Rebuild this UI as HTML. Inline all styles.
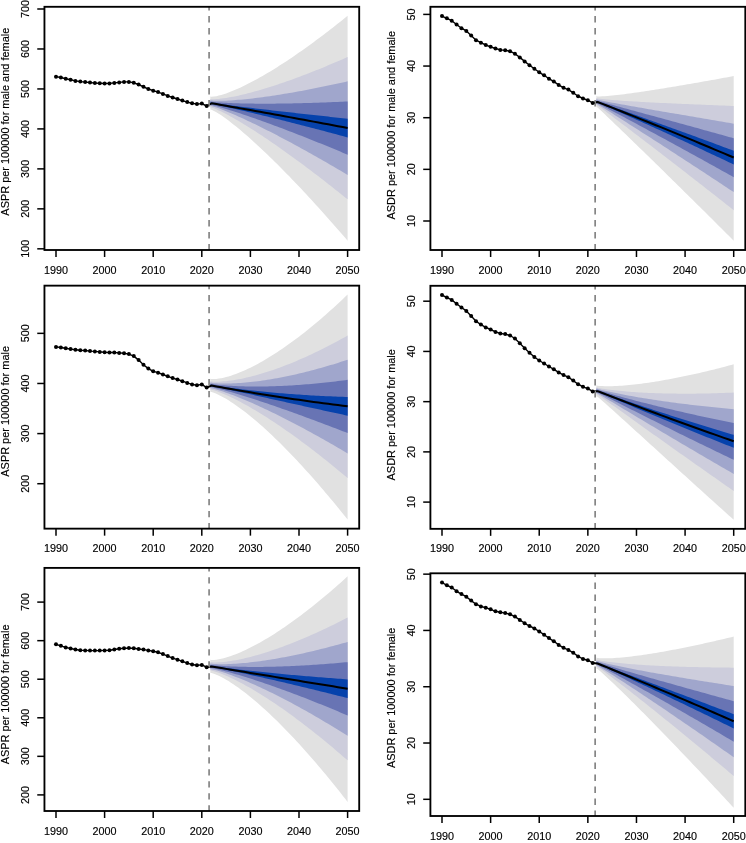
<!DOCTYPE html>
<html><head><meta charset="utf-8"><title>BAPC projections</title>
<style>
html,body{margin:0;padding:0;background:#fff;}
body{width:746px;height:843px;overflow:hidden;}
svg{display:block;filter:blur(0.3px);}
text{font-family:"Liberation Sans", Arial, Helvetica, sans-serif;fill:#000;stroke:#000;stroke-width:0.15px;}
</style></head>
<body>
<svg width="746" height="843" viewBox="0 0 746 843">
<rect width="746" height="843" fill="#fff"/>
<clipPath id="c0"><rect x="44.45" y="6.8" width="314.75" height="243.2"/></clipPath>
<g clip-path="url(#c0)">
<path d="M210.31,96.55 L211.52,96.76 L213.95,96.6 L216.38,96.17 L218.81,95.6 L221.24,94.94 L223.67,94.19 L226.1,93.38 L228.53,92.5 L230.96,91.57 L233.39,90.58 L235.82,89.56 L238.25,88.49 L240.68,87.38 L243.11,86.23 L245.54,85.05 L247.97,83.84 L250.4,82.59 L252.83,81.32 L255.26,80.01 L257.69,78.68 L260.12,77.32 L262.55,75.94 L264.98,74.53 L267.41,73.1 L269.84,71.65 L272.27,70.17 L274.7,68.67 L277.13,67.15 L279.56,65.61 L281.99,64.05 L284.42,62.47 L286.85,60.88 L289.28,59.26 L291.71,57.63 L294.14,55.97 L296.57,54.31 L299,52.62 L301.43,50.92 L303.86,49.2 L306.29,47.46 L308.72,45.71 L311.15,43.95 L313.58,42.17 L316.01,40.37 L318.44,38.56 L320.87,36.74 L323.3,34.9 L325.73,33.05 L328.16,31.18 L330.59,29.31 L333.02,27.41 L335.45,25.51 L337.88,23.59 L340.31,21.66 L342.74,19.72 L345.17,17.77 L347.6,15.8 L347.6,240.7 L345.17,237.87 L342.74,235.06 L340.31,232.25 L337.88,229.46 L335.45,226.68 L333.02,223.91 L330.59,221.15 L328.16,218.41 L325.73,215.68 L323.3,212.96 L320.87,210.26 L318.44,207.56 L316.01,204.88 L313.58,202.22 L311.15,199.57 L308.72,196.93 L306.29,194.31 L303.86,191.7 L301.43,189.11 L299,186.53 L296.57,183.97 L294.14,181.42 L291.71,178.89 L289.28,176.37 L286.85,173.88 L284.42,171.4 L281.99,168.94 L279.56,166.49 L277.13,164.07 L274.7,161.66 L272.27,159.27 L269.84,156.9 L267.41,154.56 L264.98,152.23 L262.55,149.93 L260.12,147.65 L257.69,145.39 L255.26,143.16 L252.83,140.96 L250.4,138.78 L247.97,136.62 L245.54,134.5 L243.11,132.41 L240.68,130.35 L238.25,128.32 L235.82,126.34 L233.39,124.39 L230.96,122.48 L228.53,120.62 L226.1,118.81 L223.67,117.06 L221.24,115.37 L218.81,113.76 L216.38,112.25 L213.95,110.88 L211.52,109.76 L210.31,109.55Z" fill="#e1e1e1"/>
<path d="M210.31,98.94 L211.52,99.15 L213.95,99.2 L216.38,99.08 L218.81,98.88 L221.24,98.61 L223.67,98.3 L226.1,97.94 L228.53,97.54 L230.96,97.1 L233.39,96.64 L235.82,96.15 L238.25,95.63 L240.68,95.08 L243.11,94.51 L245.54,93.93 L247.97,93.32 L250.4,92.69 L252.83,92.04 L255.26,91.37 L257.69,90.69 L260.12,89.99 L262.55,89.28 L264.98,88.54 L267.41,87.8 L269.84,87.04 L272.27,86.27 L274.7,85.48 L277.13,84.68 L279.56,83.87 L281.99,83.04 L284.42,82.21 L286.85,81.36 L289.28,80.5 L291.71,79.63 L294.14,78.74 L296.57,77.85 L299,76.95 L301.43,76.04 L303.86,75.11 L306.29,74.18 L308.72,73.24 L311.15,72.29 L313.58,71.32 L316.01,70.35 L318.44,69.38 L320.87,68.39 L323.3,67.39 L325.73,66.39 L328.16,65.37 L330.59,64.35 L333.02,63.32 L335.45,62.29 L337.88,61.24 L340.31,60.19 L342.74,59.13 L345.17,58.06 L347.6,56.99 L347.6,199.35 L345.17,197.39 L342.74,195.44 L340.31,193.49 L337.88,191.56 L335.45,189.63 L333.02,187.71 L330.59,185.79 L328.16,183.89 L325.73,181.99 L323.3,180.1 L320.87,178.22 L318.44,176.35 L316.01,174.49 L313.58,172.64 L311.15,170.79 L308.72,168.96 L306.29,167.13 L303.86,165.32 L301.43,163.51 L299,161.71 L296.57,159.93 L294.14,158.15 L291.71,156.39 L289.28,154.63 L286.85,152.89 L284.42,151.15 L281.99,149.43 L279.56,147.72 L277.13,146.02 L274.7,144.34 L272.27,142.67 L269.84,141.01 L267.41,139.36 L264.98,137.73 L262.55,136.11 L260.12,134.51 L257.69,132.92 L255.26,131.35 L252.83,129.79 L250.4,128.25 L247.97,126.73 L245.54,125.23 L243.11,123.75 L240.68,122.28 L238.25,120.84 L235.82,119.43 L233.39,118.04 L230.96,116.67 L228.53,115.34 L226.1,114.04 L223.67,112.77 L221.24,111.55 L218.81,110.38 L216.38,109.26 L213.95,108.24 L211.52,107.38 L210.31,107.17Z" fill="#cdcddc"/>
<path d="M210.31,100.35 L211.52,100.56 L213.95,100.73 L216.38,100.8 L218.81,100.82 L221.24,100.79 L223.67,100.72 L226.1,100.63 L228.53,100.52 L230.96,100.38 L233.39,100.22 L235.82,100.04 L238.25,99.85 L240.68,99.64 L243.11,99.41 L245.54,99.17 L247.97,98.92 L250.4,98.66 L252.83,98.38 L255.26,98.09 L257.69,97.79 L260.12,97.48 L262.55,97.16 L264.98,96.83 L267.41,96.49 L269.84,96.14 L272.27,95.78 L274.7,95.42 L277.13,95.04 L279.56,94.66 L281.99,94.27 L284.42,93.87 L286.85,93.47 L289.28,93.05 L291.71,92.63 L294.14,92.21 L296.57,91.77 L299,91.33 L301.43,90.89 L303.86,90.44 L306.29,89.98 L308.72,89.51 L311.15,89.04 L313.58,88.57 L316.01,88.08 L318.44,87.6 L320.87,87.1 L323.3,86.6 L325.73,86.1 L328.16,85.59 L330.59,85.08 L333.02,84.56 L335.45,84.03 L337.88,83.5 L340.31,82.97 L342.74,82.43 L345.17,81.89 L347.6,81.34 L347.6,174.9 L345.17,173.45 L342.74,172.01 L340.31,170.58 L337.88,169.14 L335.45,167.72 L333.02,166.3 L330.59,164.89 L328.16,163.48 L325.73,162.07 L323.3,160.68 L320.87,159.29 L318.44,157.9 L316.01,156.52 L313.58,155.15 L311.15,153.78 L308.72,152.42 L306.29,151.06 L303.86,149.72 L301.43,148.38 L299,147.04 L296.57,145.71 L294.14,144.39 L291.71,143.08 L289.28,141.77 L286.85,140.47 L284.42,139.18 L281.99,137.9 L279.56,136.63 L277.13,135.36 L274.7,134.1 L272.27,132.85 L269.84,131.61 L267.41,130.38 L264.98,129.15 L262.55,127.94 L260.12,126.74 L257.69,125.54 L255.26,124.36 L252.83,123.19 L250.4,122.03 L247.97,120.88 L245.54,119.74 L243.11,118.62 L240.68,117.51 L238.25,116.42 L235.82,115.34 L233.39,114.28 L230.96,113.24 L228.53,112.22 L226.1,111.21 L223.67,110.24 L221.24,109.29 L218.81,108.37 L216.38,107.5 L213.95,106.68 L211.52,105.97 L210.31,105.75Z" fill="#a0a6cc"/>
<path d="M210.31,101.51 L211.52,101.72 L213.95,102.01 L216.38,102.23 L218.81,102.42 L221.24,102.58 L223.67,102.73 L226.1,102.86 L228.53,102.98 L230.96,103.09 L233.39,103.18 L235.82,103.27 L238.25,103.34 L240.68,103.41 L243.11,103.46 L245.54,103.51 L247.97,103.56 L250.4,103.59 L252.83,103.62 L255.26,103.65 L257.69,103.66 L260.12,103.67 L262.55,103.68 L264.98,103.68 L267.41,103.68 L269.84,103.67 L272.27,103.66 L274.7,103.64 L277.13,103.61 L279.56,103.59 L281.99,103.56 L284.42,103.52 L286.85,103.48 L289.28,103.44 L291.71,103.39 L294.14,103.34 L296.57,103.29 L299,103.23 L301.43,103.17 L303.86,103.11 L306.29,103.04 L308.72,102.97 L311.15,102.9 L313.58,102.83 L316.01,102.75 L318.44,102.67 L320.87,102.58 L323.3,102.5 L325.73,102.41 L328.16,102.31 L330.59,102.22 L333.02,102.12 L335.45,102.02 L337.88,101.92 L340.31,101.81 L342.74,101.71 L345.17,101.6 L347.6,101.49 L347.6,154.67 L345.17,153.65 L342.74,152.63 L340.31,151.62 L337.88,150.61 L335.45,149.6 L333.02,148.59 L330.59,147.59 L328.16,146.59 L325.73,145.6 L323.3,144.61 L320.87,143.62 L318.44,142.64 L316.01,141.65 L313.58,140.68 L311.15,139.71 L308.72,138.74 L306.29,137.77 L303.86,136.81 L301.43,135.86 L299,134.9 L296.57,133.96 L294.14,133.01 L291.71,132.07 L289.28,131.14 L286.85,130.21 L284.42,129.28 L281.99,128.36 L279.56,127.45 L277.13,126.53 L274.7,125.63 L272.27,124.73 L269.84,123.83 L267.41,122.94 L264.98,122.06 L262.55,121.18 L260.12,120.31 L257.69,119.44 L255.26,118.58 L252.83,117.73 L250.4,116.88 L247.97,116.04 L245.54,115.21 L243.11,114.38 L240.68,113.57 L238.25,112.76 L235.82,111.96 L233.39,111.18 L230.96,110.4 L228.53,109.63 L226.1,108.88 L223.67,108.14 L221.24,107.42 L218.81,106.71 L216.38,106.03 L213.95,105.38 L211.52,104.8 L210.31,104.59Z" fill="#6874b4"/>
<path d="M210.31,102.51 L211.52,102.72 L213.95,103.09 L216.38,103.45 L218.81,103.79 L221.24,104.12 L223.67,104.45 L226.1,104.77 L228.53,105.09 L230.96,105.4 L233.39,105.71 L235.82,106.02 L238.25,106.33 L240.68,106.63 L243.11,106.93 L245.54,107.23 L247.97,107.52 L250.4,107.81 L252.83,108.11 L255.26,108.4 L257.69,108.69 L260.12,108.97 L262.55,109.26 L264.98,109.54 L267.41,109.83 L269.84,110.11 L272.27,110.39 L274.7,110.67 L277.13,110.95 L279.56,111.22 L281.99,111.5 L284.42,111.77 L286.85,112.05 L289.28,112.32 L291.71,112.6 L294.14,112.87 L296.57,113.14 L299,113.41 L301.43,113.68 L303.86,113.95 L306.29,114.22 L308.72,114.49 L311.15,114.75 L313.58,115.02 L316.01,115.29 L318.44,115.55 L320.87,115.82 L323.3,116.08 L325.73,116.35 L328.16,116.61 L330.59,116.88 L333.02,117.14 L335.45,117.4 L337.88,117.67 L340.31,117.93 L342.74,118.19 L345.17,118.45 L347.6,118.71 L347.6,137.38 L345.17,136.72 L342.74,136.06 L340.31,135.41 L337.88,134.75 L335.45,134.1 L333.02,133.45 L330.59,132.8 L328.16,132.15 L325.73,131.51 L323.3,130.86 L320.87,130.22 L318.44,129.58 L316.01,128.94 L313.58,128.31 L311.15,127.67 L308.72,127.04 L306.29,126.41 L303.86,125.78 L301.43,125.15 L299,124.53 L296.57,123.9 L294.14,123.28 L291.71,122.66 L289.28,122.04 L286.85,121.43 L284.42,120.82 L281.99,120.2 L279.56,119.6 L277.13,118.99 L274.7,118.38 L272.27,117.78 L269.84,117.18 L267.41,116.59 L264.98,115.99 L262.55,115.4 L260.12,114.81 L257.69,114.22 L255.26,113.64 L252.83,113.06 L250.4,112.48 L247.97,111.9 L245.54,111.33 L243.11,110.76 L240.68,110.19 L238.25,109.63 L235.82,109.07 L233.39,108.52 L230.96,107.97 L228.53,107.42 L226.1,106.88 L223.67,106.35 L221.24,105.82 L218.81,105.3 L216.38,104.78 L213.95,104.28 L211.52,103.8 L210.31,103.59Z" fill="#0642ac"/>
<polyline points="206.66,106 211.52,103.26 216.38,104.11 221.24,104.95 226.1,105.8 230.96,106.66 235.82,107.51 240.68,108.37 245.54,109.23 250.4,110.1 255.26,110.97 260.12,111.84 264.98,112.71 269.84,113.59 274.7,114.47 279.56,115.35 284.42,116.24 289.28,117.13 294.14,118.02 299,118.91 303.86,119.81 308.72,120.71 313.58,121.62 318.44,122.52 323.3,123.43 328.16,124.35 333.02,125.26 337.88,126.18 342.74,127.1 347.6,128.03" fill="none" stroke="#000" stroke-width="2" stroke-linejoin="round"/>
<line x1="209.09" y1="6.8" x2="209.09" y2="250" stroke="#858585" stroke-width="1.7" stroke-dasharray="6.4 5.6" stroke-dashoffset="2.7"/>
<polyline points="56,76.65 60.86,77.5 65.72,78.7 70.58,79.7 75.44,80.9 80.3,81.6 85.16,82.1 90.02,82.5 94.88,83.1 99.74,83.3 104.6,83.5 109.46,83.4 114.32,82.9 119.18,82.4 124.04,81.9 128.9,81.9 133.76,82.8 138.62,84.5 143.48,86.8 148.34,89 153.2,90.7 158.06,92.1 162.92,93.9 167.78,95.9 172.64,97.5 177.5,99 182.36,100.6 187.22,102.1 192.08,103.3 196.94,104.1 201.8,103.6 206.66,106" fill="none" stroke="#000" stroke-width="1.4" stroke-linejoin="round"/>
<circle cx="56" cy="76.65" r="2"/>
<circle cx="60.86" cy="77.5" r="2"/>
<circle cx="65.72" cy="78.7" r="2"/>
<circle cx="70.58" cy="79.7" r="2"/>
<circle cx="75.44" cy="80.9" r="2"/>
<circle cx="80.3" cy="81.6" r="2"/>
<circle cx="85.16" cy="82.1" r="2"/>
<circle cx="90.02" cy="82.5" r="2"/>
<circle cx="94.88" cy="83.1" r="2"/>
<circle cx="99.74" cy="83.3" r="2"/>
<circle cx="104.6" cy="83.5" r="2"/>
<circle cx="109.46" cy="83.4" r="2"/>
<circle cx="114.32" cy="82.9" r="2"/>
<circle cx="119.18" cy="82.4" r="2"/>
<circle cx="124.04" cy="81.9" r="2"/>
<circle cx="128.9" cy="81.9" r="2"/>
<circle cx="133.76" cy="82.8" r="2"/>
<circle cx="138.62" cy="84.5" r="2"/>
<circle cx="143.48" cy="86.8" r="2"/>
<circle cx="148.34" cy="89" r="2"/>
<circle cx="153.2" cy="90.7" r="2"/>
<circle cx="158.06" cy="92.1" r="2"/>
<circle cx="162.92" cy="93.9" r="2"/>
<circle cx="167.78" cy="95.9" r="2"/>
<circle cx="172.64" cy="97.5" r="2"/>
<circle cx="177.5" cy="99" r="2"/>
<circle cx="182.36" cy="100.6" r="2"/>
<circle cx="187.22" cy="102.1" r="2"/>
<circle cx="192.08" cy="103.3" r="2"/>
<circle cx="196.94" cy="104.1" r="2"/>
<circle cx="201.8" cy="103.6" r="2"/>
<circle cx="206.66" cy="106" r="2"/>
</g>
<rect x="44.45" y="6.8" width="314.75" height="243.2" fill="none" stroke="#000" stroke-width="1.85"/>
<line x1="56" y1="250" x2="56" y2="257" stroke="#000" stroke-width="1.5"/>
<text x="56" y="273.5" text-anchor="middle" font-size="10.8">1990</text>
<line x1="104.6" y1="250" x2="104.6" y2="257" stroke="#000" stroke-width="1.5"/>
<text x="104.6" y="273.5" text-anchor="middle" font-size="10.8">2000</text>
<line x1="153.2" y1="250" x2="153.2" y2="257" stroke="#000" stroke-width="1.5"/>
<text x="153.2" y="273.5" text-anchor="middle" font-size="10.8">2010</text>
<line x1="201.8" y1="250" x2="201.8" y2="257" stroke="#000" stroke-width="1.5"/>
<text x="201.8" y="273.5" text-anchor="middle" font-size="10.8">2020</text>
<line x1="250.4" y1="250" x2="250.4" y2="257" stroke="#000" stroke-width="1.5"/>
<text x="250.4" y="273.5" text-anchor="middle" font-size="10.8">2030</text>
<line x1="299" y1="250" x2="299" y2="257" stroke="#000" stroke-width="1.5"/>
<text x="299" y="273.5" text-anchor="middle" font-size="10.8">2040</text>
<line x1="347.6" y1="250" x2="347.6" y2="257" stroke="#000" stroke-width="1.5"/>
<text x="347.6" y="273.5" text-anchor="middle" font-size="10.8">2050</text>
<line x1="37.25" y1="248.82" x2="44.45" y2="248.82" stroke="#000" stroke-width="1.5"/>
<text transform="translate(29.25,248.82) rotate(-90)" text-anchor="middle" font-size="10.8">100</text>
<line x1="37.25" y1="208.85" x2="44.45" y2="208.85" stroke="#000" stroke-width="1.5"/>
<text transform="translate(29.25,208.85) rotate(-90)" text-anchor="middle" font-size="10.8">200</text>
<line x1="37.25" y1="168.88" x2="44.45" y2="168.88" stroke="#000" stroke-width="1.5"/>
<text transform="translate(29.25,168.88) rotate(-90)" text-anchor="middle" font-size="10.8">300</text>
<line x1="37.25" y1="128.91" x2="44.45" y2="128.91" stroke="#000" stroke-width="1.5"/>
<text transform="translate(29.25,128.91) rotate(-90)" text-anchor="middle" font-size="10.8">400</text>
<line x1="37.25" y1="88.94" x2="44.45" y2="88.94" stroke="#000" stroke-width="1.5"/>
<text transform="translate(29.25,88.94) rotate(-90)" text-anchor="middle" font-size="10.8">500</text>
<line x1="37.25" y1="48.97" x2="44.45" y2="48.97" stroke="#000" stroke-width="1.5"/>
<text transform="translate(29.25,48.97) rotate(-90)" text-anchor="middle" font-size="10.8">600</text>
<line x1="37.25" y1="9" x2="44.45" y2="9" stroke="#000" stroke-width="1.5"/>
<text transform="translate(29.25,9) rotate(-90)" text-anchor="middle" font-size="10.8">700</text>
<text transform="translate(9.25,121.7) rotate(-90)" text-anchor="middle" font-size="10.95">ASPR per 100000 for male and female</text>
<clipPath id="c1"><rect x="44.45" y="285.65" width="314.75" height="243"/></clipPath>
<g clip-path="url(#c1)">
<path d="M210.31,378.81 L211.52,379.04 L213.95,379.11 L216.38,378.94 L218.81,378.62 L221.24,378.19 L223.67,377.67 L226.1,377.06 L228.53,376.38 L230.96,375.63 L233.39,374.82 L235.82,373.95 L238.25,373.02 L240.68,372.04 L243.11,371.01 L245.54,369.93 L247.97,368.81 L250.4,367.64 L252.83,366.43 L255.26,365.17 L257.69,363.88 L260.12,362.55 L262.55,361.18 L264.98,359.77 L267.41,358.33 L269.84,356.85 L272.27,355.34 L274.7,353.8 L277.13,352.22 L279.56,350.61 L281.99,348.97 L284.42,347.3 L286.85,345.6 L289.28,343.87 L291.71,342.11 L294.14,340.33 L296.57,338.51 L299,336.67 L301.43,334.79 L303.86,332.9 L306.29,330.97 L308.72,329.02 L311.15,327.04 L313.58,325.04 L316.01,323.01 L318.44,320.96 L320.87,318.89 L323.3,316.78 L325.73,314.66 L328.16,312.51 L330.59,310.34 L333.02,308.14 L335.45,305.93 L337.88,303.69 L340.31,301.42 L342.74,299.14 L345.17,296.83 L347.6,294.5 L347.6,519.6 L345.17,516.55 L342.74,513.52 L340.31,510.52 L337.88,507.53 L335.45,504.56 L333.02,501.61 L330.59,498.68 L328.16,495.78 L325.73,492.89 L323.3,490.03 L320.87,487.19 L318.44,484.37 L316.01,481.58 L313.58,478.81 L311.15,476.06 L308.72,473.33 L306.29,470.63 L303.86,467.95 L301.43,465.3 L299,462.67 L296.57,460.07 L294.14,457.49 L291.71,454.94 L289.28,452.42 L286.85,449.92 L284.42,447.45 L281.99,445.02 L279.56,442.61 L277.13,440.23 L274.7,437.88 L272.27,435.56 L269.84,433.27 L267.41,431.02 L264.98,428.8 L262.55,426.61 L260.12,424.46 L257.69,422.34 L255.26,420.27 L252.83,418.23 L250.4,416.23 L247.97,414.27 L245.54,412.36 L243.11,410.49 L240.68,408.67 L238.25,406.89 L235.82,405.17 L233.39,403.5 L230.96,401.9 L228.53,400.35 L226.1,398.87 L223.67,397.46 L221.24,396.14 L218.81,394.91 L216.38,393.78 L213.95,392.8 L211.52,392.04 L210.31,391.81Z" fill="#e1e1e1"/>
<path d="M210.31,381.2 L211.52,381.42 L213.95,381.63 L216.38,381.69 L218.81,381.65 L221.24,381.54 L223.67,381.37 L226.1,381.14 L228.53,380.87 L230.96,380.55 L233.39,380.19 L235.82,379.8 L238.25,379.36 L240.68,378.89 L243.11,378.39 L245.54,377.86 L247.97,377.3 L250.4,376.71 L252.83,376.09 L255.26,375.44 L257.69,374.77 L260.12,374.07 L262.55,373.35 L264.98,372.6 L267.41,371.83 L269.84,371.03 L272.27,370.22 L274.7,369.38 L277.13,368.52 L279.56,367.64 L281.99,366.73 L284.42,365.81 L286.85,364.87 L289.28,363.9 L291.71,362.92 L294.14,361.92 L296.57,360.9 L299,359.86 L301.43,358.8 L303.86,357.73 L306.29,356.63 L308.72,355.52 L311.15,354.39 L313.58,353.25 L316.01,352.08 L318.44,350.91 L320.87,349.71 L323.3,348.5 L325.73,347.27 L328.16,346.02 L330.59,344.76 L333.02,343.49 L335.45,342.2 L337.88,340.89 L340.31,339.57 L342.74,338.23 L345.17,336.88 L347.6,335.51 L347.6,478 L345.17,475.96 L342.74,473.94 L340.31,471.92 L337.88,469.92 L335.45,467.93 L333.02,465.95 L330.59,463.99 L328.16,462.03 L325.73,460.09 L323.3,458.16 L320.87,456.25 L318.44,454.34 L316.01,452.46 L313.58,450.58 L311.15,448.72 L308.72,446.87 L306.29,445.03 L303.86,443.21 L301.43,441.41 L299,439.62 L296.57,437.84 L294.14,436.08 L291.71,434.34 L289.28,432.61 L286.85,430.9 L284.42,429.21 L281.99,427.53 L279.56,425.87 L277.13,424.22 L274.7,422.6 L272.27,420.99 L269.84,419.41 L267.41,417.84 L264.98,416.29 L262.55,414.77 L260.12,413.26 L257.69,411.78 L255.26,410.32 L252.83,408.88 L250.4,407.47 L247.97,406.08 L245.54,404.72 L243.11,403.38 L240.68,402.08 L238.25,400.8 L235.82,399.56 L233.39,398.35 L230.96,397.18 L228.53,396.04 L226.1,394.95 L223.67,393.9 L221.24,392.9 L218.81,391.96 L216.38,391.08 L213.95,390.3 L211.52,389.65 L210.31,389.43Z" fill="#cdcddc"/>
<path d="M210.31,382.61 L211.52,382.83 L213.95,383.13 L216.38,383.31 L218.81,383.44 L221.24,383.52 L223.67,383.55 L226.1,383.56 L228.53,383.52 L230.96,383.46 L233.39,383.37 L235.82,383.25 L238.25,383.11 L240.68,382.95 L243.11,382.76 L245.54,382.55 L247.97,382.32 L250.4,382.07 L252.83,381.8 L255.26,381.51 L257.69,381.21 L260.12,380.88 L262.55,380.54 L264.98,380.18 L267.41,379.81 L269.84,379.42 L272.27,379.01 L274.7,378.59 L277.13,378.15 L279.56,377.7 L281.99,377.23 L284.42,376.75 L286.85,376.26 L289.28,375.75 L291.71,375.22 L294.14,374.69 L296.57,374.14 L299,373.57 L301.43,373 L303.86,372.41 L306.29,371.8 L308.72,371.19 L311.15,370.56 L313.58,369.92 L316.01,369.27 L318.44,368.61 L320.87,367.93 L323.3,367.25 L325.73,366.55 L328.16,365.84 L330.59,365.12 L333.02,364.39 L335.45,363.64 L337.88,362.89 L340.31,362.12 L342.74,361.34 L345.17,360.56 L347.6,359.76 L347.6,453.4 L345.17,451.96 L342.74,450.53 L340.31,449.1 L337.88,447.68 L335.45,446.27 L333.02,444.87 L330.59,443.47 L328.16,442.08 L325.73,440.7 L323.3,439.32 L320.87,437.95 L318.44,436.59 L316.01,435.24 L313.58,433.89 L311.15,432.55 L308.72,431.22 L306.29,429.9 L303.86,428.59 L301.43,427.29 L299,425.99 L296.57,424.7 L294.14,423.43 L291.71,422.16 L289.28,420.9 L286.85,419.65 L284.42,418.41 L281.99,417.19 L279.56,415.97 L277.13,414.76 L274.7,413.57 L272.27,412.38 L269.84,411.21 L267.41,410.05 L264.98,408.9 L262.55,407.76 L260.12,406.64 L257.69,405.53 L255.26,404.43 L252.83,403.35 L250.4,402.29 L247.97,401.24 L245.54,400.2 L243.11,399.18 L240.68,398.18 L238.25,397.2 L235.82,396.24 L233.39,395.3 L230.96,394.39 L228.53,393.49 L226.1,392.63 L223.67,391.79 L221.24,390.98 L218.81,390.21 L216.38,389.49 L213.95,388.82 L211.52,388.24 L210.31,388.02Z" fill="#a0a6cc"/>
<path d="M210.31,383.78 L211.52,384 L213.95,384.36 L216.38,384.66 L218.81,384.92 L221.24,385.15 L223.67,385.36 L226.1,385.55 L228.53,385.72 L230.96,385.87 L233.39,386 L235.82,386.11 L238.25,386.22 L240.68,386.3 L243.11,386.37 L245.54,386.43 L247.97,386.48 L250.4,386.51 L252.83,386.53 L255.26,386.54 L257.69,386.53 L260.12,386.52 L262.55,386.5 L264.98,386.46 L267.41,386.41 L269.84,386.35 L272.27,386.29 L274.7,386.21 L277.13,386.12 L279.56,386.03 L281.99,385.92 L284.42,385.8 L286.85,385.68 L289.28,385.54 L291.71,385.4 L294.14,385.25 L296.57,385.09 L299,384.92 L301.43,384.74 L303.86,384.55 L306.29,384.36 L308.72,384.15 L311.15,383.94 L313.58,383.72 L316.01,383.49 L318.44,383.25 L320.87,383.01 L323.3,382.76 L325.73,382.5 L328.16,382.23 L330.59,381.96 L333.02,381.67 L335.45,381.38 L337.88,381.08 L340.31,380.78 L342.74,380.46 L345.17,380.14 L347.6,379.82 L347.6,433.05 L345.17,432.11 L342.74,431.17 L340.31,430.23 L337.88,429.29 L335.45,428.36 L333.02,427.43 L330.59,426.5 L328.16,425.57 L325.73,424.65 L323.3,423.73 L320.87,422.81 L318.44,421.9 L316.01,420.99 L313.58,420.08 L311.15,419.18 L308.72,418.28 L306.29,417.38 L303.86,416.49 L301.43,415.6 L299,414.72 L296.57,413.83 L294.14,412.96 L291.71,412.08 L289.28,411.21 L286.85,410.35 L284.42,409.49 L281.99,408.63 L279.56,407.78 L277.13,406.94 L274.7,406.09 L272.27,405.26 L269.84,404.43 L267.41,403.6 L264.98,402.78 L262.55,401.97 L260.12,401.16 L257.69,400.36 L255.26,399.57 L252.83,398.78 L250.4,398 L247.97,397.23 L245.54,396.47 L243.11,395.71 L240.68,394.96 L238.25,394.23 L235.82,393.5 L233.39,392.78 L230.96,392.08 L228.53,391.39 L226.1,390.71 L223.67,390.04 L221.24,389.4 L218.81,388.77 L216.38,388.17 L213.95,387.6 L211.52,387.08 L210.31,386.85Z" fill="#6874b4"/>
<path d="M210.31,384.77 L211.52,385 L213.95,385.41 L216.38,385.81 L218.81,386.19 L221.24,386.55 L223.67,386.91 L226.1,387.26 L228.53,387.59 L230.96,387.92 L233.39,388.25 L235.82,388.56 L238.25,388.87 L240.68,389.17 L243.11,389.46 L245.54,389.75 L247.97,390.03 L250.4,390.3 L252.83,390.57 L255.26,390.83 L257.69,391.09 L260.12,391.34 L262.55,391.59 L264.98,391.82 L267.41,392.06 L269.84,392.29 L272.27,392.51 L274.7,392.73 L277.13,392.94 L279.56,393.14 L281.99,393.35 L284.42,393.54 L286.85,393.73 L289.28,393.92 L291.71,394.1 L294.14,394.28 L296.57,394.45 L299,394.62 L301.43,394.78 L303.86,394.94 L306.29,395.09 L308.72,395.24 L311.15,395.38 L313.58,395.52 L316.01,395.65 L318.44,395.78 L320.87,395.9 L323.3,396.02 L325.73,396.14 L328.16,396.25 L330.59,396.35 L333.02,396.45 L335.45,396.55 L337.88,396.64 L340.31,396.73 L342.74,396.82 L345.17,396.89 L347.6,396.97 L347.6,415.65 L345.17,415.13 L342.74,414.61 L340.31,414.09 L337.88,413.56 L335.45,413.04 L333.02,412.51 L330.59,411.99 L328.16,411.46 L325.73,410.93 L323.3,410.4 L320.87,409.87 L318.44,409.34 L316.01,408.81 L313.58,408.28 L311.15,407.75 L308.72,407.21 L306.29,406.68 L303.86,406.15 L301.43,405.61 L299,405.08 L296.57,404.54 L294.14,404 L291.71,403.47 L289.28,402.93 L286.85,402.39 L284.42,401.86 L281.99,401.32 L279.56,400.78 L277.13,400.24 L274.7,399.7 L272.27,399.17 L269.84,398.63 L267.41,398.09 L264.98,397.55 L262.55,397.02 L260.12,396.48 L257.69,395.94 L255.26,395.41 L252.83,394.87 L250.4,394.34 L247.97,393.8 L245.54,393.27 L243.11,392.74 L240.68,392.21 L238.25,391.68 L235.82,391.15 L233.39,390.63 L230.96,390.1 L228.53,389.58 L226.1,389.07 L223.67,388.55 L221.24,388.04 L218.81,387.54 L216.38,387.04 L213.95,386.55 L211.52,386.08 L210.31,385.85Z" fill="#0642ac"/>
<polyline points="206.66,387.6 211.52,385.54 216.38,386.43 221.24,387.31 226.1,388.18 230.96,389.04 235.82,389.88 240.68,390.72 245.54,391.54 250.4,392.35 255.26,393.16 260.12,393.95 264.98,394.73 269.84,395.49 274.7,396.25 279.56,396.99 284.42,397.73 289.28,398.45 294.14,399.16 299,399.86 303.86,400.55 308.72,401.23 313.58,401.9 318.44,402.55 323.3,403.19 328.16,403.83 333.02,404.45 337.88,405.06 342.74,405.66 347.6,406.24" fill="none" stroke="#000" stroke-width="2" stroke-linejoin="round"/>
<line x1="209.09" y1="285.65" x2="209.09" y2="528.65" stroke="#858585" stroke-width="1.7" stroke-dasharray="6.4 5.6" stroke-dashoffset="2.7"/>
<polyline points="56,346.9 60.86,347.5 65.72,348.3 70.58,349.1 75.44,349.7 80.3,350.3 85.16,350.5 90.02,351.1 94.88,351.4 99.74,351.9 104.6,352.3 109.46,352.5 114.32,352.5 119.18,352.9 124.04,353.3 128.9,354.1 133.76,356.1 138.62,360.1 143.48,364.8 148.34,368.6 153.2,371.3 158.06,372.7 162.92,374.5 167.78,376.3 172.64,378.1 177.5,379.5 182.36,381.2 187.22,382.9 192.08,384.4 196.94,385.3 201.8,384.4 206.66,387.6" fill="none" stroke="#000" stroke-width="1.4" stroke-linejoin="round"/>
<circle cx="56" cy="346.9" r="2"/>
<circle cx="60.86" cy="347.5" r="2"/>
<circle cx="65.72" cy="348.3" r="2"/>
<circle cx="70.58" cy="349.1" r="2"/>
<circle cx="75.44" cy="349.7" r="2"/>
<circle cx="80.3" cy="350.3" r="2"/>
<circle cx="85.16" cy="350.5" r="2"/>
<circle cx="90.02" cy="351.1" r="2"/>
<circle cx="94.88" cy="351.4" r="2"/>
<circle cx="99.74" cy="351.9" r="2"/>
<circle cx="104.6" cy="352.3" r="2"/>
<circle cx="109.46" cy="352.5" r="2"/>
<circle cx="114.32" cy="352.5" r="2"/>
<circle cx="119.18" cy="352.9" r="2"/>
<circle cx="124.04" cy="353.3" r="2"/>
<circle cx="128.9" cy="354.1" r="2"/>
<circle cx="133.76" cy="356.1" r="2"/>
<circle cx="138.62" cy="360.1" r="2"/>
<circle cx="143.48" cy="364.8" r="2"/>
<circle cx="148.34" cy="368.6" r="2"/>
<circle cx="153.2" cy="371.3" r="2"/>
<circle cx="158.06" cy="372.7" r="2"/>
<circle cx="162.92" cy="374.5" r="2"/>
<circle cx="167.78" cy="376.3" r="2"/>
<circle cx="172.64" cy="378.1" r="2"/>
<circle cx="177.5" cy="379.5" r="2"/>
<circle cx="182.36" cy="381.2" r="2"/>
<circle cx="187.22" cy="382.9" r="2"/>
<circle cx="192.08" cy="384.4" r="2"/>
<circle cx="196.94" cy="385.3" r="2"/>
<circle cx="201.8" cy="384.4" r="2"/>
<circle cx="206.66" cy="387.6" r="2"/>
</g>
<rect x="44.45" y="285.65" width="314.75" height="243" fill="none" stroke="#000" stroke-width="1.85"/>
<line x1="56" y1="528.65" x2="56" y2="535.65" stroke="#000" stroke-width="1.5"/>
<text x="56" y="551.95" text-anchor="middle" font-size="10.8">1990</text>
<line x1="104.6" y1="528.65" x2="104.6" y2="535.65" stroke="#000" stroke-width="1.5"/>
<text x="104.6" y="551.95" text-anchor="middle" font-size="10.8">2000</text>
<line x1="153.2" y1="528.65" x2="153.2" y2="535.65" stroke="#000" stroke-width="1.5"/>
<text x="153.2" y="551.95" text-anchor="middle" font-size="10.8">2010</text>
<line x1="201.8" y1="528.65" x2="201.8" y2="535.65" stroke="#000" stroke-width="1.5"/>
<text x="201.8" y="551.95" text-anchor="middle" font-size="10.8">2020</text>
<line x1="250.4" y1="528.65" x2="250.4" y2="535.65" stroke="#000" stroke-width="1.5"/>
<text x="250.4" y="551.95" text-anchor="middle" font-size="10.8">2030</text>
<line x1="299" y1="528.65" x2="299" y2="535.65" stroke="#000" stroke-width="1.5"/>
<text x="299" y="551.95" text-anchor="middle" font-size="10.8">2040</text>
<line x1="347.6" y1="528.65" x2="347.6" y2="535.65" stroke="#000" stroke-width="1.5"/>
<text x="347.6" y="551.95" text-anchor="middle" font-size="10.8">2050</text>
<line x1="37.25" y1="483.71" x2="44.45" y2="483.71" stroke="#000" stroke-width="1.5"/>
<text transform="translate(29.25,483.71) rotate(-90)" text-anchor="middle" font-size="10.8">200</text>
<line x1="37.25" y1="433.59" x2="44.45" y2="433.59" stroke="#000" stroke-width="1.5"/>
<text transform="translate(29.25,433.59) rotate(-90)" text-anchor="middle" font-size="10.8">300</text>
<line x1="37.25" y1="383.47" x2="44.45" y2="383.47" stroke="#000" stroke-width="1.5"/>
<text transform="translate(29.25,383.47) rotate(-90)" text-anchor="middle" font-size="10.8">400</text>
<line x1="37.25" y1="333.35" x2="44.45" y2="333.35" stroke="#000" stroke-width="1.5"/>
<text transform="translate(29.25,333.35) rotate(-90)" text-anchor="middle" font-size="10.8">500</text>
<text transform="translate(9.25,411.35) rotate(-90)" text-anchor="middle" font-size="10.95">ASPR per 100000 for male</text>
<clipPath id="c2"><rect x="44.45" y="567.9" width="314.75" height="243.1"/></clipPath>
<g clip-path="url(#c2)">
<path d="M210.31,659.74 L211.52,659.95 L213.95,659.94 L216.38,659.69 L218.81,659.29 L221.24,658.79 L223.67,658.19 L226.1,657.51 L228.53,656.77 L230.96,655.95 L233.39,655.08 L235.82,654.15 L238.25,653.17 L240.68,652.15 L243.11,651.07 L245.54,649.95 L247.97,648.79 L250.4,647.59 L252.83,646.35 L255.26,645.07 L257.69,643.76 L260.12,642.41 L262.55,641.03 L264.98,639.62 L267.41,638.17 L269.84,636.69 L272.27,635.18 L274.7,633.65 L277.13,632.08 L279.56,630.49 L281.99,628.87 L284.42,627.22 L286.85,625.54 L289.28,623.84 L291.71,622.12 L294.14,620.36 L296.57,618.59 L299,616.79 L301.43,614.97 L303.86,613.12 L306.29,611.25 L308.72,609.36 L311.15,607.45 L313.58,605.51 L316.01,603.56 L318.44,601.58 L320.87,599.58 L323.3,597.56 L325.73,595.52 L328.16,593.46 L330.59,591.39 L333.02,589.29 L335.45,587.17 L337.88,585.03 L340.31,582.88 L342.74,580.7 L345.17,578.51 L347.6,576.3 L347.6,801.9 L345.17,798.78 L342.74,795.68 L340.31,792.6 L337.88,789.54 L335.45,786.5 L333.02,783.49 L330.59,780.5 L328.16,777.53 L325.73,774.59 L323.3,771.67 L320.87,768.77 L318.44,765.9 L316.01,763.05 L313.58,760.22 L311.15,757.43 L308.72,754.65 L306.29,751.9 L303.86,749.18 L301.43,746.49 L299,743.82 L296.57,741.18 L294.14,738.57 L291.71,735.98 L289.28,733.43 L286.85,730.9 L284.42,728.4 L281.99,725.94 L279.56,723.5 L277.13,721.1 L274.7,718.73 L272.27,716.39 L269.84,714.08 L267.41,711.81 L264.98,709.58 L262.55,707.38 L260.12,705.21 L257.69,703.09 L255.26,701 L252.83,698.96 L250.4,696.96 L247.97,695 L245.54,693.08 L243.11,691.21 L240.68,689.39 L238.25,687.62 L235.82,685.91 L233.39,684.25 L230.96,682.65 L228.53,681.11 L226.1,679.65 L223.67,678.26 L221.24,676.95 L218.81,675.74 L216.38,674.63 L213.95,673.67 L211.52,672.95 L210.31,672.74Z" fill="#e1e1e1"/>
<path d="M210.31,662.13 L211.52,662.33 L213.95,662.48 L216.38,662.46 L218.81,662.36 L221.24,662.19 L223.67,661.96 L226.1,661.68 L228.53,661.36 L230.96,660.99 L233.39,660.59 L235.82,660.15 L238.25,659.67 L240.68,659.17 L243.11,658.64 L245.54,658.08 L247.97,657.49 L250.4,656.88 L252.83,656.24 L255.26,655.58 L257.69,654.89 L260.12,654.19 L262.55,653.46 L264.98,652.71 L267.41,651.94 L269.84,651.15 L272.27,650.34 L274.7,649.52 L277.13,648.67 L279.56,647.81 L281.99,646.93 L284.42,646.03 L286.85,645.11 L289.28,644.18 L291.71,643.24 L294.14,642.27 L296.57,641.3 L299,640.3 L301.43,639.29 L303.86,638.27 L306.29,637.23 L308.72,636.18 L311.15,635.11 L313.58,634.03 L316.01,632.94 L318.44,631.83 L320.87,630.71 L323.3,629.58 L325.73,628.43 L328.16,627.27 L330.59,626.1 L333.02,624.91 L335.45,623.72 L337.88,622.51 L340.31,621.29 L342.74,620.06 L345.17,618.81 L347.6,617.56 L347.6,760.36 L345.17,758.24 L342.74,756.13 L340.31,754.04 L337.88,751.96 L335.45,749.9 L333.02,747.84 L330.59,745.81 L328.16,743.79 L325.73,741.78 L323.3,739.78 L320.87,737.81 L318.44,735.84 L316.01,733.9 L313.58,731.96 L311.15,730.05 L308.72,728.15 L306.29,726.26 L303.86,724.4 L301.43,722.55 L299,720.71 L296.57,718.9 L294.14,717.1 L291.71,715.31 L289.28,713.55 L286.85,711.81 L284.42,710.08 L281.99,708.37 L279.56,706.69 L277.13,705.02 L274.7,703.37 L272.27,701.74 L269.84,700.14 L267.41,698.55 L264.98,696.99 L262.55,695.45 L260.12,693.94 L257.69,692.45 L255.26,690.98 L252.83,689.54 L250.4,688.12 L247.97,686.74 L245.54,685.38 L243.11,684.05 L240.68,682.75 L238.25,681.48 L235.82,680.25 L233.39,679.05 L230.96,677.89 L228.53,676.77 L226.1,675.69 L223.67,674.66 L221.24,673.69 L218.81,672.77 L216.38,671.93 L213.95,671.17 L211.52,670.56 L210.31,670.36Z" fill="#cdcddc"/>
<path d="M210.31,663.54 L211.52,663.74 L213.95,663.98 L216.38,664.11 L218.81,664.18 L221.24,664.2 L223.67,664.19 L226.1,664.15 L228.53,664.07 L230.96,663.97 L233.39,663.84 L235.82,663.69 L238.25,663.52 L240.68,663.32 L243.11,663.11 L245.54,662.88 L247.97,662.63 L250.4,662.37 L252.83,662.08 L255.26,661.79 L257.69,661.47 L260.12,661.15 L262.55,660.81 L264.98,660.45 L267.41,660.08 L269.84,659.7 L272.27,659.3 L274.7,658.9 L277.13,658.48 L279.56,658.05 L281.99,657.61 L284.42,657.15 L286.85,656.69 L289.28,656.21 L291.71,655.72 L294.14,655.23 L296.57,654.72 L299,654.2 L301.43,653.68 L303.86,653.14 L306.29,652.59 L308.72,652.04 L311.15,651.47 L313.58,650.9 L316.01,650.31 L318.44,649.72 L320.87,649.12 L323.3,648.51 L325.73,647.89 L328.16,647.26 L330.59,646.62 L333.02,645.98 L335.45,645.33 L337.88,644.67 L340.31,644 L342.74,643.32 L345.17,642.64 L347.6,641.95 L347.6,735.8 L345.17,734.27 L342.74,732.75 L340.31,731.24 L337.88,729.74 L335.45,728.25 L333.02,726.77 L330.59,725.3 L328.16,723.83 L325.73,722.38 L323.3,720.93 L320.87,719.5 L318.44,718.07 L316.01,716.66 L313.58,715.25 L311.15,713.86 L308.72,712.48 L306.29,711.1 L303.86,709.74 L301.43,708.39 L299,707.05 L296.57,705.72 L294.14,704.4 L291.71,703.09 L289.28,701.8 L286.85,700.52 L284.42,699.25 L281.99,697.99 L279.56,696.74 L277.13,695.51 L274.7,694.29 L272.27,693.09 L269.84,691.89 L267.41,690.72 L264.98,689.55 L262.55,688.4 L260.12,687.27 L257.69,686.15 L255.26,685.05 L252.83,683.97 L250.4,682.9 L247.97,681.85 L245.54,680.82 L243.11,679.81 L240.68,678.82 L238.25,677.85 L235.82,676.9 L233.39,675.97 L230.96,675.07 L228.53,674.2 L226.1,673.35 L223.67,672.54 L221.24,671.76 L218.81,671.02 L216.38,670.32 L213.95,669.69 L211.52,669.15 L210.31,668.95Z" fill="#a0a6cc"/>
<path d="M210.31,664.71 L211.52,664.91 L213.95,665.22 L216.38,665.46 L218.81,665.68 L221.24,665.87 L223.67,666.04 L226.1,666.18 L228.53,666.32 L230.96,666.43 L233.39,666.53 L235.82,666.62 L238.25,666.7 L240.68,666.76 L243.11,666.81 L245.54,666.85 L247.97,666.89 L250.4,666.91 L252.83,666.92 L255.26,666.92 L257.69,666.92 L260.12,666.9 L262.55,666.88 L264.98,666.85 L267.41,666.82 L269.84,666.77 L272.27,666.72 L274.7,666.66 L277.13,666.59 L279.56,666.52 L281.99,666.44 L284.42,666.35 L286.85,666.26 L289.28,666.16 L291.71,666.05 L294.14,665.94 L296.57,665.83 L299,665.7 L301.43,665.57 L303.86,665.44 L306.29,665.3 L308.72,665.15 L311.15,665 L313.58,664.84 L316.01,664.68 L318.44,664.51 L320.87,664.34 L323.3,664.16 L325.73,663.98 L328.16,663.8 L330.59,663.6 L333.02,663.41 L335.45,663.2 L337.88,663 L340.31,662.79 L342.74,662.57 L345.17,662.35 L347.6,662.13 L347.6,715.48 L345.17,714.44 L342.74,713.41 L340.31,712.39 L337.88,711.36 L335.45,710.35 L333.02,709.33 L330.59,708.33 L328.16,707.33 L325.73,706.33 L323.3,705.34 L320.87,704.36 L318.44,703.38 L316.01,702.4 L313.58,701.43 L311.15,700.47 L308.72,699.51 L306.29,698.56 L303.86,697.62 L301.43,696.68 L299,695.74 L296.57,694.82 L294.14,693.9 L291.71,692.98 L289.28,692.08 L286.85,691.18 L284.42,690.28 L281.99,689.4 L279.56,688.52 L277.13,687.65 L274.7,686.78 L272.27,685.92 L269.84,685.07 L267.41,684.23 L264.98,683.4 L262.55,682.57 L260.12,681.76 L257.69,680.95 L255.26,680.15 L252.83,679.36 L250.4,678.58 L247.97,677.81 L245.54,677.05 L243.11,676.3 L240.68,675.57 L238.25,674.84 L235.82,674.13 L233.39,673.43 L230.96,672.74 L228.53,672.07 L226.1,671.42 L223.67,670.78 L221.24,670.16 L218.81,669.57 L216.38,669 L213.95,668.46 L211.52,667.98 L210.31,667.78Z" fill="#6874b4"/>
<path d="M210.31,665.7 L211.52,665.91 L213.95,666.28 L216.38,666.63 L218.81,666.96 L221.24,667.29 L223.67,667.61 L226.1,667.93 L228.53,668.23 L230.96,668.54 L233.39,668.83 L235.82,669.13 L238.25,669.41 L240.68,669.7 L243.11,669.98 L245.54,670.25 L247.97,670.52 L250.4,670.79 L252.83,671.05 L255.26,671.32 L257.69,671.57 L260.12,671.83 L262.55,672.08 L264.98,672.33 L267.41,672.58 L269.84,672.82 L272.27,673.06 L274.7,673.3 L277.13,673.53 L279.56,673.76 L281.99,673.99 L284.42,674.22 L286.85,674.45 L289.28,674.67 L291.71,674.89 L294.14,675.11 L296.57,675.32 L299,675.54 L301.43,675.75 L303.86,675.96 L306.29,676.16 L308.72,676.37 L311.15,676.57 L313.58,676.77 L316.01,676.97 L318.44,677.17 L320.87,677.36 L323.3,677.55 L325.73,677.75 L328.16,677.93 L330.59,678.12 L333.02,678.31 L335.45,678.49 L337.88,678.67 L340.31,678.85 L342.74,679.03 L345.17,679.21 L347.6,679.38 L347.6,698.11 L345.17,697.49 L342.74,696.87 L340.31,696.26 L337.88,695.65 L335.45,695.04 L333.02,694.43 L330.59,693.82 L328.16,693.21 L325.73,692.61 L323.3,692.01 L320.87,691.4 L318.44,690.81 L316.01,690.21 L313.58,689.61 L311.15,689.02 L308.72,688.43 L306.29,687.84 L303.86,687.25 L301.43,686.66 L299,686.08 L296.57,685.5 L294.14,684.92 L291.71,684.34 L289.28,683.76 L286.85,683.19 L284.42,682.62 L281.99,682.05 L279.56,681.48 L277.13,680.92 L274.7,680.36 L272.27,679.8 L269.84,679.24 L267.41,678.69 L264.98,678.14 L262.55,677.59 L260.12,677.04 L257.69,676.5 L255.26,675.96 L252.83,675.42 L250.4,674.89 L247.97,674.36 L245.54,673.83 L243.11,673.31 L240.68,672.79 L238.25,672.27 L235.82,671.76 L233.39,671.25 L230.96,670.75 L228.53,670.26 L226.1,669.76 L223.67,669.28 L221.24,668.8 L218.81,668.33 L216.38,667.87 L213.95,667.42 L211.52,666.98 L210.31,666.78Z" fill="#0642ac"/>
<polyline points="206.66,667.2 211.52,666.45 216.38,667.25 221.24,668.06 226.1,668.87 230.96,669.68 235.82,670.48 240.68,671.29 245.54,672.09 250.4,672.89 255.26,673.69 260.12,674.49 264.98,675.29 269.84,676.09 274.7,676.88 279.56,677.68 284.42,678.48 289.28,679.27 294.14,680.06 299,680.85 303.86,681.64 308.72,682.43 313.58,683.22 318.44,684.01 323.3,684.8 328.16,685.58 333.02,686.36 337.88,687.15 342.74,687.93 347.6,688.71" fill="none" stroke="#000" stroke-width="2" stroke-linejoin="round"/>
<line x1="209.09" y1="567.9" x2="209.09" y2="811" stroke="#858585" stroke-width="1.7" stroke-dasharray="6.4 5.6" stroke-dashoffset="2.7"/>
<polyline points="56,644.3 60.86,645.8 65.72,647.4 70.58,648.5 75.44,649.5 80.3,650.2 85.16,650.4 90.02,650.6 94.88,650.6 99.74,650.6 104.6,650.4 109.46,650.3 114.32,649.5 119.18,648.7 124.04,648.2 128.9,648.1 133.76,648.3 138.62,649 143.48,649.6 148.34,650.4 153.2,651.3 158.06,652.3 162.92,654.1 167.78,656.1 172.64,658.1 177.5,659.7 182.36,661.3 187.22,663.1 192.08,664.5 196.94,665.3 201.8,664.9 206.66,667.2" fill="none" stroke="#000" stroke-width="1.4" stroke-linejoin="round"/>
<circle cx="56" cy="644.3" r="2"/>
<circle cx="60.86" cy="645.8" r="2"/>
<circle cx="65.72" cy="647.4" r="2"/>
<circle cx="70.58" cy="648.5" r="2"/>
<circle cx="75.44" cy="649.5" r="2"/>
<circle cx="80.3" cy="650.2" r="2"/>
<circle cx="85.16" cy="650.4" r="2"/>
<circle cx="90.02" cy="650.6" r="2"/>
<circle cx="94.88" cy="650.6" r="2"/>
<circle cx="99.74" cy="650.6" r="2"/>
<circle cx="104.6" cy="650.4" r="2"/>
<circle cx="109.46" cy="650.3" r="2"/>
<circle cx="114.32" cy="649.5" r="2"/>
<circle cx="119.18" cy="648.7" r="2"/>
<circle cx="124.04" cy="648.2" r="2"/>
<circle cx="128.9" cy="648.1" r="2"/>
<circle cx="133.76" cy="648.3" r="2"/>
<circle cx="138.62" cy="649" r="2"/>
<circle cx="143.48" cy="649.6" r="2"/>
<circle cx="148.34" cy="650.4" r="2"/>
<circle cx="153.2" cy="651.3" r="2"/>
<circle cx="158.06" cy="652.3" r="2"/>
<circle cx="162.92" cy="654.1" r="2"/>
<circle cx="167.78" cy="656.1" r="2"/>
<circle cx="172.64" cy="658.1" r="2"/>
<circle cx="177.5" cy="659.7" r="2"/>
<circle cx="182.36" cy="661.3" r="2"/>
<circle cx="187.22" cy="663.1" r="2"/>
<circle cx="192.08" cy="664.5" r="2"/>
<circle cx="196.94" cy="665.3" r="2"/>
<circle cx="201.8" cy="664.9" r="2"/>
<circle cx="206.66" cy="667.2" r="2"/>
</g>
<rect x="44.45" y="567.9" width="314.75" height="243.1" fill="none" stroke="#000" stroke-width="1.85"/>
<line x1="56" y1="811" x2="56" y2="818" stroke="#000" stroke-width="1.5"/>
<text x="56" y="835.1" text-anchor="middle" font-size="10.8">1990</text>
<line x1="104.6" y1="811" x2="104.6" y2="818" stroke="#000" stroke-width="1.5"/>
<text x="104.6" y="835.1" text-anchor="middle" font-size="10.8">2000</text>
<line x1="153.2" y1="811" x2="153.2" y2="818" stroke="#000" stroke-width="1.5"/>
<text x="153.2" y="835.1" text-anchor="middle" font-size="10.8">2010</text>
<line x1="201.8" y1="811" x2="201.8" y2="818" stroke="#000" stroke-width="1.5"/>
<text x="201.8" y="835.1" text-anchor="middle" font-size="10.8">2020</text>
<line x1="250.4" y1="811" x2="250.4" y2="818" stroke="#000" stroke-width="1.5"/>
<text x="250.4" y="835.1" text-anchor="middle" font-size="10.8">2030</text>
<line x1="299" y1="811" x2="299" y2="818" stroke="#000" stroke-width="1.5"/>
<text x="299" y="835.1" text-anchor="middle" font-size="10.8">2040</text>
<line x1="347.6" y1="811" x2="347.6" y2="818" stroke="#000" stroke-width="1.5"/>
<text x="347.6" y="835.1" text-anchor="middle" font-size="10.8">2050</text>
<line x1="37.25" y1="794.9" x2="44.45" y2="794.9" stroke="#000" stroke-width="1.5"/>
<text transform="translate(29.25,794.9) rotate(-90)" text-anchor="middle" font-size="10.8">200</text>
<line x1="37.25" y1="756.34" x2="44.45" y2="756.34" stroke="#000" stroke-width="1.5"/>
<text transform="translate(29.25,756.34) rotate(-90)" text-anchor="middle" font-size="10.8">300</text>
<line x1="37.25" y1="717.78" x2="44.45" y2="717.78" stroke="#000" stroke-width="1.5"/>
<text transform="translate(29.25,717.78) rotate(-90)" text-anchor="middle" font-size="10.8">400</text>
<line x1="37.25" y1="679.22" x2="44.45" y2="679.22" stroke="#000" stroke-width="1.5"/>
<text transform="translate(29.25,679.22) rotate(-90)" text-anchor="middle" font-size="10.8">500</text>
<line x1="37.25" y1="640.66" x2="44.45" y2="640.66" stroke="#000" stroke-width="1.5"/>
<text transform="translate(29.25,640.66) rotate(-90)" text-anchor="middle" font-size="10.8">600</text>
<line x1="37.25" y1="602.1" x2="44.45" y2="602.1" stroke="#000" stroke-width="1.5"/>
<text transform="translate(29.25,602.1) rotate(-90)" text-anchor="middle" font-size="10.8">700</text>
<text transform="translate(9.25,694.45) rotate(-90)" text-anchor="middle" font-size="10.95">ASPR per 100000 for female</text>
<clipPath id="c3"><rect x="430.4" y="6.8" width="314.9" height="243.2"/></clipPath>
<g clip-path="url(#c3)">
<path d="M596.36,95.97 L597.57,96.45 L600,96.46 L602.44,96.35 L604.87,96.19 L607.3,95.99 L609.73,95.78 L612.16,95.54 L614.59,95.28 L617.02,95.01 L619.45,94.73 L621.88,94.43 L624.31,94.13 L626.74,93.82 L629.17,93.5 L631.61,93.17 L634.04,92.83 L636.47,92.49 L638.9,92.14 L641.33,91.79 L643.76,91.43 L646.19,91.07 L648.62,90.7 L651.05,90.33 L653.48,89.95 L655.91,89.57 L658.34,89.18 L660.78,88.8 L663.21,88.41 L665.64,88.01 L668.07,87.61 L670.5,87.21 L672.93,86.81 L675.36,86.4 L677.79,86 L680.22,85.59 L682.65,85.17 L685.08,84.76 L687.51,84.34 L689.95,83.92 L692.38,83.5 L694.81,83.08 L697.24,82.65 L699.67,82.22 L702.1,81.79 L704.53,81.36 L706.96,80.93 L709.39,80.5 L711.82,80.07 L714.25,79.63 L716.68,79.19 L719.12,78.75 L721.55,78.31 L723.98,77.87 L726.41,77.43 L728.84,76.99 L731.27,76.54 L733.7,76.1 L733.7,240.7 L731.27,238.27 L728.84,235.84 L726.41,233.41 L723.98,230.98 L721.55,228.55 L719.12,226.13 L716.68,223.71 L714.25,221.29 L711.82,218.87 L709.39,216.45 L706.96,214.04 L704.53,211.62 L702.1,209.21 L699.67,206.8 L697.24,204.39 L694.81,201.99 L692.38,199.58 L689.95,197.18 L687.51,194.78 L685.08,192.38 L682.65,189.98 L680.22,187.58 L677.79,185.19 L675.36,182.8 L672.93,180.41 L670.5,178.02 L668.07,175.63 L665.64,173.25 L663.21,170.86 L660.78,168.48 L658.34,166.1 L655.91,163.73 L653.48,161.35 L651.05,158.98 L648.62,156.61 L646.19,154.24 L643.76,151.87 L641.33,149.51 L638.9,147.15 L636.47,144.79 L634.04,142.43 L631.61,140.08 L629.17,137.72 L626.74,135.37 L624.31,133.02 L621.88,130.68 L619.45,128.34 L617.02,126 L614.59,123.66 L612.16,121.33 L609.73,119 L607.3,116.67 L604.87,114.35 L602.44,112.04 L600,109.74 L597.57,107.45 L596.36,106.97Z" fill="#e1e1e1"/>
<path d="M596.36,97.99 L597.57,98.47 L600,98.82 L602.44,99.1 L604.87,99.35 L607.3,99.58 L609.73,99.8 L612.16,100 L614.59,100.19 L617.02,100.37 L619.45,100.55 L621.88,100.71 L624.31,100.88 L626.74,101.03 L629.17,101.19 L631.61,101.34 L634.04,101.48 L636.47,101.62 L638.9,101.76 L641.33,101.9 L643.76,102.03 L646.19,102.16 L648.62,102.28 L651.05,102.41 L653.48,102.53 L655.91,102.65 L658.34,102.77 L660.78,102.89 L663.21,103 L665.64,103.12 L668.07,103.23 L670.5,103.34 L672.93,103.45 L675.36,103.56 L677.79,103.67 L680.22,103.78 L682.65,103.88 L685.08,103.99 L687.51,104.09 L689.95,104.2 L692.38,104.3 L694.81,104.4 L697.24,104.5 L699.67,104.6 L702.1,104.71 L704.53,104.81 L706.96,104.9 L709.39,105 L711.82,105.1 L714.25,105.2 L716.68,105.3 L719.12,105.4 L721.55,105.5 L723.98,105.59 L726.41,105.69 L728.84,105.79 L731.27,105.88 L733.7,105.98 L733.7,210.17 L731.27,208.25 L728.84,206.34 L726.41,204.42 L723.98,202.51 L721.55,200.6 L719.12,198.69 L716.68,196.78 L714.25,194.87 L711.82,192.97 L709.39,191.06 L706.96,189.16 L704.53,187.26 L702.1,185.36 L699.67,183.46 L697.24,181.57 L694.81,179.67 L692.38,177.78 L689.95,175.89 L687.51,174 L685.08,172.11 L682.65,170.23 L680.22,168.34 L677.79,166.46 L675.36,164.58 L672.93,162.7 L670.5,160.82 L668.07,158.95 L665.64,157.07 L663.21,155.2 L660.78,153.33 L658.34,151.46 L655.91,149.59 L653.48,147.73 L651.05,145.87 L648.62,144 L646.19,142.15 L643.76,140.29 L641.33,138.43 L638.9,136.58 L636.47,134.73 L634.04,132.88 L631.61,131.03 L629.17,129.18 L626.74,127.34 L624.31,125.5 L621.88,123.66 L619.45,121.82 L617.02,119.99 L614.59,118.15 L612.16,116.32 L609.73,114.5 L607.3,112.67 L604.87,110.85 L602.44,109.04 L600,107.23 L597.57,105.43 L596.36,104.96Z" fill="#cdcddc"/>
<path d="M596.36,99.19 L597.57,99.66 L600,100.22 L602.44,100.73 L604.87,101.23 L607.3,101.7 L609.73,102.17 L612.16,102.63 L614.59,103.09 L617.02,103.54 L619.45,103.99 L621.88,104.43 L624.31,104.87 L626.74,105.3 L629.17,105.73 L631.61,106.17 L634.04,106.59 L636.47,107.02 L638.9,107.45 L641.33,107.87 L643.76,108.29 L646.19,108.71 L648.62,109.13 L651.05,109.55 L653.48,109.97 L655.91,110.39 L658.34,110.8 L660.78,111.22 L663.21,111.64 L665.64,112.05 L668.07,112.47 L670.5,112.88 L672.93,113.29 L675.36,113.71 L677.79,114.12 L680.22,114.53 L682.65,114.95 L685.08,115.36 L687.51,115.77 L689.95,116.19 L692.38,116.6 L694.81,117.01 L697.24,117.43 L699.67,117.84 L702.1,118.25 L704.53,118.67 L706.96,119.08 L709.39,119.49 L711.82,119.91 L714.25,120.32 L716.68,120.74 L719.12,121.15 L721.55,121.57 L723.98,121.98 L726.41,122.4 L728.84,122.82 L731.27,123.23 L733.7,123.65 L733.7,192.12 L731.27,190.51 L728.84,188.9 L726.41,187.28 L723.98,185.67 L721.55,184.07 L719.12,182.46 L716.68,180.85 L714.25,179.25 L711.82,177.65 L709.39,176.05 L706.96,174.45 L704.53,172.85 L702.1,171.26 L699.67,169.66 L697.24,168.07 L694.81,166.48 L692.38,164.89 L689.95,163.3 L687.51,161.71 L685.08,160.13 L682.65,158.55 L680.22,156.97 L677.79,155.39 L675.36,153.81 L672.93,152.23 L670.5,150.65 L668.07,149.08 L665.64,147.51 L663.21,145.94 L660.78,144.37 L658.34,142.8 L655.91,141.24 L653.48,139.67 L651.05,138.11 L648.62,136.55 L646.19,134.99 L643.76,133.44 L641.33,131.88 L638.9,130.33 L636.47,128.78 L634.04,127.23 L631.61,125.68 L629.17,124.13 L626.74,122.59 L624.31,121.05 L621.88,119.5 L619.45,117.97 L617.02,116.43 L614.59,114.9 L612.16,113.36 L609.73,111.83 L607.3,110.31 L604.87,108.78 L602.44,107.26 L600,105.75 L597.57,104.24 L596.36,103.76Z" fill="#a0a6cc"/>
<path d="M596.36,100.17 L597.57,100.65 L600,101.38 L602.44,102.08 L604.87,102.77 L607.3,103.46 L609.73,104.14 L612.16,104.82 L614.59,105.49 L617.02,106.16 L619.45,106.83 L621.88,107.5 L624.31,108.17 L626.74,108.83 L629.17,109.5 L631.61,110.16 L634.04,110.82 L636.47,111.49 L638.9,112.15 L641.33,112.81 L643.76,113.47 L646.19,114.14 L648.62,114.8 L651.05,115.46 L653.48,116.12 L655.91,116.79 L658.34,117.45 L660.78,118.11 L663.21,118.78 L665.64,119.44 L668.07,120.1 L670.5,120.77 L672.93,121.43 L675.36,122.1 L677.79,122.77 L680.22,123.43 L682.65,124.1 L685.08,124.77 L687.51,125.43 L689.95,126.1 L692.38,126.77 L694.81,127.44 L697.24,128.11 L699.67,128.78 L702.1,129.46 L704.53,130.13 L706.96,130.8 L709.39,131.48 L711.82,132.15 L714.25,132.83 L716.68,133.51 L719.12,134.18 L721.55,134.86 L723.98,135.54 L726.41,136.22 L728.84,136.9 L731.27,137.58 L733.7,138.26 L733.7,177.19 L731.27,175.83 L728.84,174.47 L726.41,173.11 L723.98,171.75 L721.55,170.39 L719.12,169.04 L716.68,167.68 L714.25,166.33 L711.82,164.98 L709.39,163.63 L706.96,162.28 L704.53,160.94 L702.1,159.59 L699.67,158.25 L697.24,156.91 L694.81,155.57 L692.38,154.23 L689.95,152.89 L687.51,151.55 L685.08,150.22 L682.65,148.89 L680.22,147.55 L677.79,146.22 L675.36,144.9 L672.93,143.57 L670.5,142.24 L668.07,140.92 L665.64,139.6 L663.21,138.28 L660.78,136.96 L658.34,135.64 L655.91,134.33 L653.48,133.01 L651.05,131.7 L648.62,130.39 L646.19,129.08 L643.76,127.77 L641.33,126.46 L638.9,125.16 L636.47,123.85 L634.04,122.55 L631.61,121.25 L629.17,119.95 L626.74,118.66 L624.31,117.36 L621.88,116.07 L619.45,114.78 L617.02,113.49 L614.59,112.2 L612.16,110.92 L609.73,109.63 L607.3,108.35 L604.87,107.07 L602.44,105.79 L600,104.52 L597.57,103.25 L596.36,102.77Z" fill="#6874b4"/>
<path d="M596.36,101.02 L597.57,101.49 L600,102.37 L602.44,103.23 L604.87,104.1 L607.3,104.96 L609.73,105.82 L612.16,106.68 L614.59,107.54 L617.02,108.4 L619.45,109.26 L621.88,110.12 L624.31,110.99 L626.74,111.85 L629.17,112.71 L631.61,113.58 L634.04,114.44 L636.47,115.31 L638.9,116.17 L641.33,117.04 L643.76,117.91 L646.19,118.77 L648.62,119.64 L651.05,120.51 L653.48,121.39 L655.91,122.26 L658.34,123.13 L660.78,124.01 L663.21,124.88 L665.64,125.76 L668.07,126.64 L670.5,127.52 L672.93,128.39 L675.36,129.28 L677.79,130.16 L680.22,131.04 L682.65,131.92 L685.08,132.81 L687.51,133.7 L689.95,134.58 L692.38,135.47 L694.81,136.36 L697.24,137.25 L699.67,138.15 L702.1,139.04 L704.53,139.93 L706.96,140.83 L709.39,141.73 L711.82,142.62 L714.25,143.52 L716.68,144.42 L719.12,145.33 L721.55,146.23 L723.98,147.13 L726.41,148.04 L728.84,148.95 L731.27,149.85 L733.7,150.76 L733.7,164.42 L731.27,163.28 L728.84,162.13 L726.41,160.98 L723.98,159.84 L721.55,158.7 L719.12,157.56 L716.68,156.42 L714.25,155.28 L711.82,154.15 L709.39,153.01 L706.96,151.88 L704.53,150.75 L702.1,149.62 L699.67,148.49 L697.24,147.36 L694.81,146.23 L692.38,145.11 L689.95,143.98 L687.51,142.86 L685.08,141.74 L682.65,140.62 L680.22,139.51 L677.79,138.39 L675.36,137.28 L672.93,136.16 L670.5,135.05 L668.07,133.94 L665.64,132.83 L663.21,131.73 L660.78,130.62 L658.34,129.52 L655.91,128.41 L653.48,127.31 L651.05,126.21 L648.62,125.11 L646.19,124.02 L643.76,122.92 L641.33,121.83 L638.9,120.74 L636.47,119.65 L634.04,118.56 L631.61,117.47 L629.17,116.38 L626.74,115.3 L624.31,114.21 L621.88,113.13 L619.45,112.05 L617.02,110.97 L614.59,109.9 L612.16,108.82 L609.73,107.75 L607.3,106.68 L604.87,105.61 L602.44,104.54 L600,103.47 L597.57,102.41 L596.36,101.93Z" fill="#0642ac"/>
<polyline points="592.71,103 597.57,101.95 602.44,103.86 607.3,105.77 612.16,107.69 617.02,109.61 621.88,111.54 626.74,113.48 631.61,115.42 636.47,117.37 641.33,119.32 646.19,121.28 651.05,123.25 655.91,125.22 660.78,127.19 665.64,129.18 670.5,131.16 675.36,133.16 680.22,135.16 685.08,137.16 689.95,139.17 694.81,141.19 699.67,143.21 704.53,145.24 709.39,147.27 714.25,149.31 719.12,151.35 723.98,153.4 728.84,155.46 733.7,157.52" fill="none" stroke="#000" stroke-width="2" stroke-linejoin="round"/>
<line x1="595.14" y1="6.8" x2="595.14" y2="250" stroke="#858585" stroke-width="1.7" stroke-dasharray="6.4 5.6" stroke-dashoffset="2.7"/>
<polyline points="442,16.1 446.86,18.3 451.72,20.7 456.58,24.5 461.45,28.2 466.31,30.9 471.17,35.6 476.03,40.2 480.89,42.7 485.75,45 490.62,46.8 495.48,48.5 500.34,49.9 505.2,50.3 510.06,51.3 514.92,53.7 519.79,57.4 524.65,61.4 529.51,65.2 534.37,68.8 539.23,72.3 544.1,75.3 548.96,78.7 553.82,81.6 558.68,84.9 563.54,87.8 568.4,89.6 573.26,92.8 578.13,96.2 582.99,98.5 587.85,100.2 592.71,103" fill="none" stroke="#000" stroke-width="1.4" stroke-linejoin="round"/>
<circle cx="442" cy="16.1" r="2"/>
<circle cx="446.86" cy="18.3" r="2"/>
<circle cx="451.72" cy="20.7" r="2"/>
<circle cx="456.58" cy="24.5" r="2"/>
<circle cx="461.45" cy="28.2" r="2"/>
<circle cx="466.31" cy="30.9" r="2"/>
<circle cx="471.17" cy="35.6" r="2"/>
<circle cx="476.03" cy="40.2" r="2"/>
<circle cx="480.89" cy="42.7" r="2"/>
<circle cx="485.75" cy="45" r="2"/>
<circle cx="490.62" cy="46.8" r="2"/>
<circle cx="495.48" cy="48.5" r="2"/>
<circle cx="500.34" cy="49.9" r="2"/>
<circle cx="505.2" cy="50.3" r="2"/>
<circle cx="510.06" cy="51.3" r="2"/>
<circle cx="514.92" cy="53.7" r="2"/>
<circle cx="519.79" cy="57.4" r="2"/>
<circle cx="524.65" cy="61.4" r="2"/>
<circle cx="529.51" cy="65.2" r="2"/>
<circle cx="534.37" cy="68.8" r="2"/>
<circle cx="539.23" cy="72.3" r="2"/>
<circle cx="544.1" cy="75.3" r="2"/>
<circle cx="548.96" cy="78.7" r="2"/>
<circle cx="553.82" cy="81.6" r="2"/>
<circle cx="558.68" cy="84.9" r="2"/>
<circle cx="563.54" cy="87.8" r="2"/>
<circle cx="568.4" cy="89.6" r="2"/>
<circle cx="573.26" cy="92.8" r="2"/>
<circle cx="578.13" cy="96.2" r="2"/>
<circle cx="582.99" cy="98.5" r="2"/>
<circle cx="587.85" cy="100.2" r="2"/>
<circle cx="592.71" cy="103" r="2"/>
</g>
<rect x="430.4" y="6.8" width="314.9" height="243.2" fill="none" stroke="#000" stroke-width="1.85"/>
<line x1="442" y1="250" x2="442" y2="257" stroke="#000" stroke-width="1.5"/>
<text x="442" y="273.5" text-anchor="middle" font-size="10.8">1990</text>
<line x1="490.62" y1="250" x2="490.62" y2="257" stroke="#000" stroke-width="1.5"/>
<text x="490.62" y="273.5" text-anchor="middle" font-size="10.8">2000</text>
<line x1="539.23" y1="250" x2="539.23" y2="257" stroke="#000" stroke-width="1.5"/>
<text x="539.23" y="273.5" text-anchor="middle" font-size="10.8">2010</text>
<line x1="587.85" y1="250" x2="587.85" y2="257" stroke="#000" stroke-width="1.5"/>
<text x="587.85" y="273.5" text-anchor="middle" font-size="10.8">2020</text>
<line x1="636.47" y1="250" x2="636.47" y2="257" stroke="#000" stroke-width="1.5"/>
<text x="636.47" y="273.5" text-anchor="middle" font-size="10.8">2030</text>
<line x1="685.08" y1="250" x2="685.08" y2="257" stroke="#000" stroke-width="1.5"/>
<text x="685.08" y="273.5" text-anchor="middle" font-size="10.8">2040</text>
<line x1="733.7" y1="250" x2="733.7" y2="257" stroke="#000" stroke-width="1.5"/>
<text x="733.7" y="273.5" text-anchor="middle" font-size="10.8">2050</text>
<line x1="423.2" y1="221" x2="430.4" y2="221" stroke="#000" stroke-width="1.5"/>
<text transform="translate(415.2,221) rotate(-90)" text-anchor="middle" font-size="10.8">10</text>
<line x1="423.2" y1="169.35" x2="430.4" y2="169.35" stroke="#000" stroke-width="1.5"/>
<text transform="translate(415.2,169.35) rotate(-90)" text-anchor="middle" font-size="10.8">20</text>
<line x1="423.2" y1="117.7" x2="430.4" y2="117.7" stroke="#000" stroke-width="1.5"/>
<text transform="translate(415.2,117.7) rotate(-90)" text-anchor="middle" font-size="10.8">30</text>
<line x1="423.2" y1="66.05" x2="430.4" y2="66.05" stroke="#000" stroke-width="1.5"/>
<text transform="translate(415.2,66.05) rotate(-90)" text-anchor="middle" font-size="10.8">40</text>
<line x1="423.2" y1="14.4" x2="430.4" y2="14.4" stroke="#000" stroke-width="1.5"/>
<text transform="translate(415.2,14.4) rotate(-90)" text-anchor="middle" font-size="10.8">50</text>
<text transform="translate(395.2,125.25) rotate(-90)" text-anchor="middle" font-size="10.95">ASDR per 100000 for male and female</text>
<clipPath id="c4"><rect x="430.4" y="285.8" width="314.9" height="243.05"/></clipPath>
<g clip-path="url(#c4)">
<path d="M596.36,385.15 L597.57,385.63 L600,385.95 L602.44,386.11 L604.87,386.2 L607.3,386.22 L609.73,386.21 L612.16,386.15 L614.59,386.06 L617.02,385.95 L619.45,385.81 L621.88,385.64 L624.31,385.46 L626.74,385.25 L629.17,385.02 L631.61,384.78 L634.04,384.52 L636.47,384.24 L638.9,383.95 L641.33,383.64 L643.76,383.32 L646.19,382.99 L648.62,382.64 L651.05,382.28 L653.48,381.91 L655.91,381.52 L658.34,381.13 L660.78,380.72 L663.21,380.3 L665.64,379.87 L668.07,379.44 L670.5,378.99 L672.93,378.53 L675.36,378.06 L677.79,377.58 L680.22,377.09 L682.65,376.6 L685.08,376.09 L687.51,375.58 L689.95,375.05 L692.38,374.52 L694.81,373.98 L697.24,373.43 L699.67,372.88 L702.1,372.31 L704.53,371.74 L706.96,371.16 L709.39,370.57 L711.82,369.98 L714.25,369.38 L716.68,368.77 L719.12,368.15 L721.55,367.53 L723.98,366.89 L726.41,366.26 L728.84,365.61 L731.27,364.96 L733.7,364.3 L733.7,519.8 L731.27,517.61 L728.84,515.42 L726.41,513.23 L723.98,511.04 L721.55,508.85 L719.12,506.66 L716.68,504.46 L714.25,502.27 L711.82,500.07 L709.39,497.88 L706.96,495.68 L704.53,493.48 L702.1,491.28 L699.67,489.08 L697.24,486.88 L694.81,484.67 L692.38,482.47 L689.95,480.27 L687.51,478.06 L685.08,475.85 L682.65,473.65 L680.22,471.44 L677.79,469.23 L675.36,467.02 L672.93,464.81 L670.5,462.6 L668.07,460.39 L665.64,458.18 L663.21,455.97 L660.78,453.76 L658.34,451.55 L655.91,449.34 L653.48,447.12 L651.05,444.91 L648.62,442.7 L646.19,440.49 L643.76,438.27 L641.33,436.06 L638.9,433.85 L636.47,431.64 L634.04,429.43 L631.61,427.22 L629.17,425.01 L626.74,422.8 L624.31,420.59 L621.88,418.39 L619.45,416.18 L617.02,413.98 L614.59,411.79 L612.16,409.59 L609.73,407.4 L607.3,405.22 L604.87,403.04 L602.44,400.88 L600,398.73 L597.57,396.63 L596.36,396.15Z" fill="#e1e1e1"/>
<path d="M596.36,387.17 L597.57,387.64 L600,388.2 L602.44,388.65 L604.87,389.04 L607.3,389.41 L609.73,389.74 L612.16,390.05 L614.59,390.34 L617.02,390.61 L619.45,390.86 L621.88,391.09 L624.31,391.32 L626.74,391.53 L629.17,391.72 L631.61,391.91 L634.04,392.08 L636.47,392.24 L638.9,392.39 L641.33,392.53 L643.76,392.66 L646.19,392.79 L648.62,392.9 L651.05,393.01 L653.48,393.1 L655.91,393.19 L658.34,393.27 L660.78,393.34 L663.21,393.41 L665.64,393.46 L668.07,393.51 L670.5,393.56 L672.93,393.59 L675.36,393.62 L677.79,393.65 L680.22,393.66 L682.65,393.67 L685.08,393.67 L687.51,393.67 L689.95,393.66 L692.38,393.65 L694.81,393.63 L697.24,393.6 L699.67,393.57 L702.1,393.53 L704.53,393.48 L706.96,393.43 L709.39,393.38 L711.82,393.32 L714.25,393.25 L716.68,393.18 L719.12,393.1 L721.55,393.02 L723.98,392.93 L726.41,392.84 L728.84,392.75 L731.27,392.64 L733.7,392.54 L733.7,490.97 L731.27,489.27 L728.84,487.58 L726.41,485.88 L723.98,484.18 L721.55,482.48 L719.12,480.78 L716.68,479.08 L714.25,477.37 L711.82,475.67 L709.39,473.96 L706.96,472.25 L704.53,470.54 L702.1,468.83 L699.67,467.12 L697.24,465.41 L694.81,463.69 L692.38,461.98 L689.95,460.26 L687.51,458.54 L685.08,456.83 L682.65,455.11 L680.22,453.38 L677.79,451.66 L675.36,449.94 L672.93,448.21 L670.5,446.49 L668.07,444.76 L665.64,443.03 L663.21,441.31 L660.78,439.58 L658.34,437.85 L655.91,436.11 L653.48,434.38 L651.05,432.65 L648.62,430.92 L646.19,429.18 L643.76,427.45 L641.33,425.71 L638.9,423.98 L636.47,422.24 L634.04,420.5 L631.61,418.77 L629.17,417.03 L626.74,415.29 L624.31,413.56 L621.88,411.82 L619.45,410.09 L617.02,408.35 L614.59,406.62 L612.16,404.89 L609.73,403.16 L607.3,401.43 L604.87,399.71 L602.44,397.99 L600,396.28 L597.57,394.61 L596.36,394.13Z" fill="#cdcddc"/>
<path d="M596.36,388.36 L597.57,388.84 L600,389.53 L602.44,390.14 L604.87,390.73 L607.3,391.29 L609.73,391.83 L612.16,392.35 L614.59,392.86 L617.02,393.36 L619.45,393.84 L621.88,394.32 L624.31,394.78 L626.74,395.24 L629.17,395.68 L631.61,396.12 L634.04,396.55 L636.47,396.97 L638.9,397.38 L641.33,397.79 L643.76,398.19 L646.19,398.58 L648.62,398.97 L651.05,399.35 L653.48,399.72 L655.91,400.09 L658.34,400.45 L660.78,400.8 L663.21,401.16 L665.64,401.5 L668.07,401.84 L670.5,402.17 L672.93,402.5 L675.36,402.83 L677.79,403.15 L680.22,403.46 L682.65,403.77 L685.08,404.07 L687.51,404.37 L689.95,404.67 L692.38,404.96 L694.81,405.24 L697.24,405.52 L699.67,405.8 L702.1,406.07 L704.53,406.34 L706.96,406.6 L709.39,406.86 L711.82,407.12 L714.25,407.37 L716.68,407.62 L719.12,407.86 L721.55,408.1 L723.98,408.33 L726.41,408.56 L728.84,408.79 L731.27,409.01 L733.7,409.23 L733.7,473.92 L731.27,472.52 L728.84,471.11 L726.41,469.71 L723.98,468.3 L721.55,466.89 L719.12,465.48 L716.68,464.07 L714.25,462.65 L711.82,461.24 L709.39,459.82 L706.96,458.4 L704.53,456.98 L702.1,455.56 L699.67,454.14 L697.24,452.72 L694.81,451.29 L692.38,449.86 L689.95,448.43 L687.51,447 L685.08,445.57 L682.65,444.14 L680.22,442.71 L677.79,441.27 L675.36,439.84 L672.93,438.4 L670.5,436.96 L668.07,435.52 L665.64,434.08 L663.21,432.63 L660.78,431.19 L658.34,429.74 L655.91,428.3 L653.48,426.85 L651.05,425.4 L648.62,423.95 L646.19,422.5 L643.76,421.05 L641.33,419.59 L638.9,418.14 L636.47,416.68 L634.04,415.23 L631.61,413.77 L629.17,412.31 L626.74,410.86 L624.31,409.4 L621.88,407.94 L619.45,406.48 L617.02,405.02 L614.59,403.56 L612.16,402.1 L609.73,400.65 L607.3,399.19 L604.87,397.74 L602.44,396.28 L600,394.84 L597.57,393.41 L596.36,392.94Z" fill="#a0a6cc"/>
<path d="M596.36,389.35 L597.57,389.82 L600,390.62 L602.44,391.38 L604.87,392.12 L607.3,392.85 L609.73,393.56 L612.16,394.26 L614.59,394.95 L617.02,395.64 L619.45,396.31 L621.88,396.98 L624.31,397.65 L626.74,398.31 L629.17,398.96 L631.61,399.6 L634.04,400.24 L636.47,400.88 L638.9,401.51 L641.33,402.14 L643.76,402.76 L646.19,403.37 L648.62,403.98 L651.05,404.59 L653.48,405.19 L655.91,405.79 L658.34,406.39 L660.78,406.98 L663.21,407.56 L665.64,408.15 L668.07,408.73 L670.5,409.3 L672.93,409.87 L675.36,410.44 L677.79,411 L680.22,411.56 L682.65,412.12 L685.08,412.67 L687.51,413.22 L689.95,413.77 L692.38,414.31 L694.81,414.85 L697.24,415.39 L699.67,415.92 L702.1,416.45 L704.53,416.97 L706.96,417.5 L709.39,418.02 L711.82,418.53 L714.25,419.05 L716.68,419.56 L719.12,420.06 L721.55,420.57 L723.98,421.07 L726.41,421.57 L728.84,422.06 L731.27,422.55 L733.7,423.04 L733.7,459.82 L731.27,458.66 L728.84,457.49 L726.41,456.33 L723.98,455.16 L721.55,453.99 L719.12,452.82 L716.68,451.65 L714.25,450.48 L711.82,449.3 L709.39,448.12 L706.96,446.95 L704.53,445.77 L702.1,444.58 L699.67,443.4 L697.24,442.22 L694.81,441.03 L692.38,439.84 L689.95,438.65 L687.51,437.46 L685.08,436.27 L682.65,435.07 L680.22,433.88 L677.79,432.68 L675.36,431.48 L672.93,430.28 L670.5,429.08 L668.07,427.87 L665.64,426.67 L663.21,425.46 L660.78,424.25 L658.34,423.04 L655.91,421.83 L653.48,420.62 L651.05,419.4 L648.62,418.19 L646.19,416.97 L643.76,415.75 L641.33,414.53 L638.9,413.31 L636.47,412.09 L634.04,410.86 L631.61,409.64 L629.17,408.41 L626.74,407.19 L624.31,405.96 L621.88,404.73 L619.45,403.5 L617.02,402.27 L614.59,401.04 L612.16,399.8 L609.73,398.57 L607.3,397.34 L604.87,396.1 L602.44,394.87 L600,393.64 L597.57,392.43 L596.36,391.95Z" fill="#6874b4"/>
<path d="M596.36,390.2 L597.57,390.67 L600,391.56 L602.44,392.44 L604.87,393.31 L607.3,394.18 L609.73,395.04 L612.16,395.89 L614.59,396.74 L617.02,397.58 L619.45,398.43 L621.88,399.26 L624.31,400.1 L626.74,400.93 L629.17,401.76 L631.61,402.58 L634.04,403.41 L636.47,404.22 L638.9,405.04 L641.33,405.85 L643.76,406.66 L646.19,407.47 L648.62,408.27 L651.05,409.08 L653.48,409.88 L655.91,410.67 L658.34,411.47 L660.78,412.26 L663.21,413.04 L665.64,413.83 L668.07,414.61 L670.5,415.39 L672.93,416.17 L675.36,416.95 L677.79,417.72 L680.22,418.49 L682.65,419.26 L685.08,420.03 L687.51,420.79 L689.95,421.55 L692.38,422.31 L694.81,423.07 L697.24,423.82 L699.67,424.57 L702.1,425.32 L704.53,426.07 L706.96,426.81 L709.39,427.56 L711.82,428.3 L714.25,429.03 L716.68,429.77 L719.12,430.5 L721.55,431.23 L723.98,431.96 L726.41,432.69 L728.84,433.41 L731.27,434.13 L733.7,434.85 L733.7,447.76 L731.27,446.8 L728.84,445.85 L726.41,444.89 L723.98,443.93 L721.55,442.96 L719.12,442 L716.68,441.03 L714.25,440.06 L711.82,439.09 L709.39,438.12 L706.96,437.15 L704.53,436.17 L702.1,435.2 L699.67,434.22 L697.24,433.24 L694.81,432.25 L692.38,431.27 L689.95,430.28 L687.51,429.3 L685.08,428.31 L682.65,427.32 L680.22,426.32 L677.79,425.33 L675.36,424.33 L672.93,423.33 L670.5,422.34 L668.07,421.33 L665.64,420.33 L663.21,419.33 L660.78,418.32 L658.34,417.31 L655.91,416.3 L653.48,415.29 L651.05,414.27 L648.62,413.26 L646.19,412.24 L643.76,411.22 L641.33,410.2 L638.9,409.18 L636.47,408.16 L634.04,407.13 L631.61,406.11 L629.17,405.08 L626.74,404.05 L624.31,403.02 L621.88,401.98 L619.45,400.95 L617.02,399.91 L614.59,398.87 L612.16,397.83 L609.73,396.79 L607.3,395.75 L604.87,394.71 L602.44,393.67 L600,392.62 L597.57,391.58 L596.36,391.11Z" fill="#0642ac"/>
<polyline points="592.71,391.4 597.57,391.13 602.44,393.01 607.3,394.9 612.16,396.77 617.02,398.64 621.88,400.5 626.74,402.35 631.61,404.2 636.47,406.03 641.33,407.86 646.19,409.69 651.05,411.5 655.91,413.31 660.78,415.11 665.64,416.9 670.5,418.69 675.36,420.47 680.22,422.24 685.08,424 689.95,425.76 694.81,427.51 699.67,429.25 704.53,430.99 709.39,432.71 714.25,434.43 719.12,436.15 723.98,437.85 728.84,439.55 733.7,441.24" fill="none" stroke="#000" stroke-width="2" stroke-linejoin="round"/>
<line x1="595.14" y1="285.8" x2="595.14" y2="528.85" stroke="#858585" stroke-width="1.7" stroke-dasharray="6.4 5.6" stroke-dashoffset="2.7"/>
<polyline points="442,295.1 446.86,297.5 451.72,299.9 456.58,303.7 461.45,307.5 466.31,310.9 471.17,316 476.03,321.2 480.89,324.6 485.75,327.4 490.62,329.5 495.48,331.9 500.34,333.5 505.2,334.1 510.06,335.5 514.92,338.5 519.79,343.3 524.65,348.2 529.51,352.7 534.37,357 539.23,360.5 544.1,363.5 548.96,366.5 553.82,369.3 558.68,372.4 563.54,375.1 568.4,377.2 573.26,380.6 578.13,384.2 582.99,386.8 587.85,388.6 592.71,391.4" fill="none" stroke="#000" stroke-width="1.4" stroke-linejoin="round"/>
<circle cx="442" cy="295.1" r="2"/>
<circle cx="446.86" cy="297.5" r="2"/>
<circle cx="451.72" cy="299.9" r="2"/>
<circle cx="456.58" cy="303.7" r="2"/>
<circle cx="461.45" cy="307.5" r="2"/>
<circle cx="466.31" cy="310.9" r="2"/>
<circle cx="471.17" cy="316" r="2"/>
<circle cx="476.03" cy="321.2" r="2"/>
<circle cx="480.89" cy="324.6" r="2"/>
<circle cx="485.75" cy="327.4" r="2"/>
<circle cx="490.62" cy="329.5" r="2"/>
<circle cx="495.48" cy="331.9" r="2"/>
<circle cx="500.34" cy="333.5" r="2"/>
<circle cx="505.2" cy="334.1" r="2"/>
<circle cx="510.06" cy="335.5" r="2"/>
<circle cx="514.92" cy="338.5" r="2"/>
<circle cx="519.79" cy="343.3" r="2"/>
<circle cx="524.65" cy="348.2" r="2"/>
<circle cx="529.51" cy="352.7" r="2"/>
<circle cx="534.37" cy="357" r="2"/>
<circle cx="539.23" cy="360.5" r="2"/>
<circle cx="544.1" cy="363.5" r="2"/>
<circle cx="548.96" cy="366.5" r="2"/>
<circle cx="553.82" cy="369.3" r="2"/>
<circle cx="558.68" cy="372.4" r="2"/>
<circle cx="563.54" cy="375.1" r="2"/>
<circle cx="568.4" cy="377.2" r="2"/>
<circle cx="573.26" cy="380.6" r="2"/>
<circle cx="578.13" cy="384.2" r="2"/>
<circle cx="582.99" cy="386.8" r="2"/>
<circle cx="587.85" cy="388.6" r="2"/>
<circle cx="592.71" cy="391.4" r="2"/>
</g>
<rect x="430.4" y="285.8" width="314.9" height="243.05" fill="none" stroke="#000" stroke-width="1.85"/>
<line x1="442" y1="528.85" x2="442" y2="535.85" stroke="#000" stroke-width="1.5"/>
<text x="442" y="552.15" text-anchor="middle" font-size="10.8">1990</text>
<line x1="490.62" y1="528.85" x2="490.62" y2="535.85" stroke="#000" stroke-width="1.5"/>
<text x="490.62" y="552.15" text-anchor="middle" font-size="10.8">2000</text>
<line x1="539.23" y1="528.85" x2="539.23" y2="535.85" stroke="#000" stroke-width="1.5"/>
<text x="539.23" y="552.15" text-anchor="middle" font-size="10.8">2010</text>
<line x1="587.85" y1="528.85" x2="587.85" y2="535.85" stroke="#000" stroke-width="1.5"/>
<text x="587.85" y="552.15" text-anchor="middle" font-size="10.8">2020</text>
<line x1="636.47" y1="528.85" x2="636.47" y2="535.85" stroke="#000" stroke-width="1.5"/>
<text x="636.47" y="552.15" text-anchor="middle" font-size="10.8">2030</text>
<line x1="685.08" y1="528.85" x2="685.08" y2="535.85" stroke="#000" stroke-width="1.5"/>
<text x="685.08" y="552.15" text-anchor="middle" font-size="10.8">2040</text>
<line x1="733.7" y1="528.85" x2="733.7" y2="535.85" stroke="#000" stroke-width="1.5"/>
<text x="733.7" y="552.15" text-anchor="middle" font-size="10.8">2050</text>
<line x1="423.2" y1="502.1" x2="430.4" y2="502.1" stroke="#000" stroke-width="1.5"/>
<text transform="translate(415.2,502.1) rotate(-90)" text-anchor="middle" font-size="10.8">10</text>
<line x1="423.2" y1="451.88" x2="430.4" y2="451.88" stroke="#000" stroke-width="1.5"/>
<text transform="translate(415.2,451.88) rotate(-90)" text-anchor="middle" font-size="10.8">20</text>
<line x1="423.2" y1="401.65" x2="430.4" y2="401.65" stroke="#000" stroke-width="1.5"/>
<text transform="translate(415.2,401.65) rotate(-90)" text-anchor="middle" font-size="10.8">30</text>
<line x1="423.2" y1="351.43" x2="430.4" y2="351.43" stroke="#000" stroke-width="1.5"/>
<text transform="translate(415.2,351.43) rotate(-90)" text-anchor="middle" font-size="10.8">40</text>
<line x1="423.2" y1="301.2" x2="430.4" y2="301.2" stroke="#000" stroke-width="1.5"/>
<text transform="translate(415.2,301.2) rotate(-90)" text-anchor="middle" font-size="10.8">50</text>
<text transform="translate(395.2,414.8) rotate(-90)" text-anchor="middle" font-size="10.95">ASDR per 100000 for male</text>
<clipPath id="c5"><rect x="430.4" y="573.3" width="314.9" height="242.7"/></clipPath>
<g clip-path="url(#c5)">
<path d="M596.36,657.45 L597.57,657.95 L600,658.24 L602.44,658.34 L604.87,658.37 L607.3,658.34 L609.73,658.27 L612.16,658.16 L614.59,658.02 L617.02,657.85 L619.45,657.66 L621.88,657.45 L624.31,657.22 L626.74,656.96 L629.17,656.7 L631.61,656.41 L634.04,656.12 L636.47,655.8 L638.9,655.48 L641.33,655.14 L643.76,654.79 L646.19,654.43 L648.62,654.06 L651.05,653.68 L653.48,653.29 L655.91,652.89 L658.34,652.48 L660.78,652.06 L663.21,651.64 L665.64,651.2 L668.07,650.76 L670.5,650.31 L672.93,649.86 L675.36,649.39 L677.79,648.92 L680.22,648.45 L682.65,647.96 L685.08,647.47 L687.51,646.98 L689.95,646.48 L692.38,645.97 L694.81,645.46 L697.24,644.94 L699.67,644.42 L702.1,643.89 L704.53,643.36 L706.96,642.82 L709.39,642.27 L711.82,641.73 L714.25,641.17 L716.68,640.62 L719.12,640.06 L721.55,639.49 L723.98,638.92 L726.41,638.35 L728.84,637.77 L731.27,637.19 L733.7,636.6 L733.7,807.8 L731.27,805.17 L728.84,802.55 L726.41,799.93 L723.98,797.31 L721.55,794.7 L719.12,792.09 L716.68,789.48 L714.25,786.88 L711.82,784.28 L709.39,781.69 L706.96,779.1 L704.53,776.51 L702.1,773.93 L699.67,771.35 L697.24,768.78 L694.81,766.21 L692.38,763.64 L689.95,761.08 L687.51,758.52 L685.08,755.97 L682.65,753.42 L680.22,750.88 L677.79,748.34 L675.36,745.8 L672.93,743.28 L670.5,740.75 L668.07,738.23 L665.64,735.72 L663.21,733.21 L660.78,730.71 L658.34,728.21 L655.91,725.72 L653.48,723.24 L651.05,720.76 L648.62,718.28 L646.19,715.82 L643.76,713.36 L641.33,710.91 L638.9,708.46 L636.47,706.03 L634.04,703.6 L631.61,701.18 L629.17,698.77 L626.74,696.37 L624.31,693.98 L621.88,691.6 L619.45,689.24 L617.02,686.89 L614.59,684.55 L612.16,682.23 L609.73,679.92 L607.3,677.64 L604.87,675.39 L602.44,673.17 L600,671 L597.57,668.95 L596.36,668.45Z" fill="#e1e1e1"/>
<path d="M596.36,659.47 L597.57,659.97 L600,660.52 L602.44,660.95 L604.87,661.34 L607.3,661.69 L609.73,662.01 L612.16,662.31 L614.59,662.59 L617.02,662.85 L619.45,663.1 L621.88,663.34 L624.31,663.56 L626.74,663.77 L629.17,663.97 L631.61,664.17 L634.04,664.35 L636.47,664.53 L638.9,664.69 L641.33,664.85 L643.76,665.01 L646.19,665.16 L648.62,665.3 L651.05,665.43 L653.48,665.56 L655.91,665.68 L658.34,665.8 L660.78,665.91 L663.21,666.02 L665.64,666.13 L668.07,666.23 L670.5,666.32 L672.93,666.41 L675.36,666.5 L677.79,666.58 L680.22,666.66 L682.65,666.74 L685.08,666.81 L687.51,666.88 L689.95,666.94 L692.38,667.01 L694.81,667.07 L697.24,667.12 L699.67,667.18 L702.1,667.23 L704.53,667.27 L706.96,667.32 L709.39,667.36 L711.82,667.4 L714.25,667.44 L716.68,667.47 L719.12,667.51 L721.55,667.54 L723.98,667.56 L726.41,667.59 L728.84,667.61 L731.27,667.64 L733.7,667.66 L733.7,776.03 L731.27,773.97 L728.84,771.92 L726.41,769.87 L723.98,767.83 L721.55,765.78 L719.12,763.74 L716.68,761.71 L714.25,759.67 L711.82,757.64 L709.39,755.61 L706.96,753.58 L704.53,751.56 L702.1,749.54 L699.67,747.52 L697.24,745.51 L694.81,743.5 L692.38,741.49 L689.95,739.49 L687.51,737.49 L685.08,735.49 L682.65,733.49 L680.22,731.5 L677.79,729.51 L675.36,727.53 L672.93,725.55 L670.5,723.57 L668.07,721.6 L665.64,719.63 L663.21,717.66 L660.78,715.7 L658.34,713.74 L655.91,711.78 L653.48,709.84 L651.05,707.89 L648.62,705.95 L646.19,704.01 L643.76,702.08 L641.33,700.16 L638.9,698.24 L636.47,696.32 L634.04,694.41 L631.61,692.51 L629.17,690.61 L626.74,688.72 L624.31,686.83 L621.88,684.96 L619.45,683.09 L617.02,681.23 L614.59,679.38 L612.16,677.54 L609.73,675.71 L607.3,673.9 L604.87,672.11 L602.44,670.33 L600,668.59 L597.57,666.93 L596.36,666.43Z" fill="#cdcddc"/>
<path d="M596.36,660.66 L597.57,661.16 L600,661.86 L602.44,662.49 L604.87,663.09 L607.3,663.66 L609.73,664.22 L612.16,664.76 L614.59,665.29 L617.02,665.81 L619.45,666.32 L621.88,666.82 L624.31,667.31 L626.74,667.8 L629.17,668.28 L631.61,668.75 L634.04,669.22 L636.47,669.68 L638.9,670.14 L641.33,670.6 L643.76,671.05 L646.19,671.5 L648.62,671.94 L651.05,672.38 L653.48,672.81 L655.91,673.25 L658.34,673.68 L660.78,674.1 L663.21,674.53 L665.64,674.95 L668.07,675.37 L670.5,675.79 L672.93,676.2 L675.36,676.61 L677.79,677.02 L680.22,677.43 L682.65,677.84 L685.08,678.24 L687.51,678.64 L689.95,679.04 L692.38,679.44 L694.81,679.84 L697.24,680.24 L699.67,680.63 L702.1,681.02 L704.53,681.42 L706.96,681.81 L709.39,682.19 L711.82,682.58 L714.25,682.97 L716.68,683.35 L719.12,683.74 L721.55,684.12 L723.98,684.5 L726.41,684.88 L728.84,685.26 L731.27,685.64 L733.7,686.02 L733.7,757.24 L731.27,755.52 L728.84,753.81 L726.41,752.1 L723.98,750.39 L721.55,748.69 L719.12,746.98 L716.68,745.28 L714.25,743.58 L711.82,741.89 L709.39,740.19 L706.96,738.5 L704.53,736.81 L702.1,735.12 L699.67,733.44 L697.24,731.75 L694.81,730.07 L692.38,728.39 L689.95,726.72 L687.51,725.05 L685.08,723.38 L682.65,721.71 L680.22,720.04 L677.79,718.38 L675.36,716.72 L672.93,715.06 L670.5,713.41 L668.07,711.76 L665.64,710.11 L663.21,708.46 L660.78,706.82 L658.34,705.18 L655.91,703.55 L653.48,701.91 L651.05,700.28 L648.62,698.66 L646.19,697.03 L643.76,695.41 L641.33,693.8 L638.9,692.19 L636.47,690.58 L634.04,688.97 L631.61,687.38 L629.17,685.78 L626.74,684.19 L624.31,682.61 L621.88,681.03 L619.45,679.45 L617.02,677.88 L614.59,676.32 L612.16,674.77 L609.73,673.22 L607.3,671.69 L604.87,670.17 L602.44,668.66 L600,667.17 L597.57,665.74 L596.36,665.24Z" fill="#a0a6cc"/>
<path d="M596.36,661.65 L597.57,662.15 L600,662.98 L602.44,663.77 L604.87,664.54 L607.3,665.3 L609.73,666.05 L612.16,666.79 L614.59,667.52 L617.02,668.25 L619.45,668.98 L621.88,669.7 L624.31,670.41 L626.74,671.13 L629.17,671.84 L631.61,672.54 L634.04,673.25 L636.47,673.95 L638.9,674.65 L641.33,675.35 L643.76,676.05 L646.19,676.74 L648.62,677.43 L651.05,678.13 L653.48,678.82 L655.91,679.5 L658.34,680.19 L660.78,680.88 L663.21,681.56 L665.64,682.25 L668.07,682.93 L670.5,683.62 L672.93,684.3 L675.36,684.98 L677.79,685.66 L680.22,686.34 L682.65,687.02 L685.08,687.7 L687.51,688.38 L689.95,689.05 L692.38,689.73 L694.81,690.41 L697.24,691.09 L699.67,691.76 L702.1,692.44 L704.53,693.11 L706.96,693.79 L709.39,694.46 L711.82,695.14 L714.25,695.81 L716.68,696.49 L719.12,697.16 L721.55,697.84 L723.98,698.51 L726.41,699.19 L728.84,699.86 L731.27,700.53 L733.7,701.21 L733.7,741.7 L731.27,740.26 L728.84,738.83 L726.41,737.4 L723.98,735.97 L721.55,734.54 L719.12,733.12 L716.68,731.7 L714.25,730.27 L711.82,728.85 L709.39,727.44 L706.96,726.02 L704.53,724.6 L702.1,723.19 L699.67,721.78 L697.24,720.37 L694.81,718.97 L692.38,717.56 L689.95,716.16 L687.51,714.76 L685.08,713.36 L682.65,711.96 L680.22,710.56 L677.79,709.17 L675.36,707.78 L672.93,706.39 L670.5,705 L668.07,703.62 L665.64,702.24 L663.21,700.86 L660.78,699.48 L658.34,698.1 L655.91,696.73 L653.48,695.36 L651.05,693.99 L648.62,692.62 L646.19,691.26 L643.76,689.9 L641.33,688.54 L638.9,687.18 L636.47,685.83 L634.04,684.48 L631.61,683.13 L629.17,681.79 L626.74,680.45 L624.31,679.11 L621.88,677.77 L619.45,676.44 L617.02,675.12 L614.59,673.8 L612.16,672.48 L609.73,671.17 L607.3,669.86 L604.87,668.56 L602.44,667.27 L600,666 L597.57,664.75 L596.36,664.25Z" fill="#6874b4"/>
<path d="M596.36,662.49 L597.57,662.99 L600,663.93 L602.44,664.86 L604.87,665.78 L607.3,666.7 L609.73,667.61 L612.16,668.52 L614.59,669.43 L617.02,670.34 L619.45,671.25 L621.88,672.16 L624.31,673.07 L626.74,673.97 L629.17,674.88 L631.61,675.79 L634.04,676.69 L636.47,677.6 L638.9,678.51 L641.33,679.41 L643.76,680.32 L646.19,681.23 L648.62,682.13 L651.05,683.04 L653.48,683.95 L655.91,684.86 L658.34,685.76 L660.78,686.67 L663.21,687.58 L665.64,688.49 L668.07,689.4 L670.5,690.31 L672.93,691.22 L675.36,692.13 L677.79,693.05 L680.22,693.96 L682.65,694.87 L685.08,695.78 L687.51,696.7 L689.95,697.61 L692.38,698.53 L694.81,699.45 L697.24,700.36 L699.67,701.28 L702.1,702.2 L704.53,703.12 L706.96,704.04 L709.39,704.96 L711.82,705.88 L714.25,706.8 L716.68,707.72 L719.12,708.64 L721.55,709.57 L723.98,710.49 L726.41,711.42 L728.84,712.34 L731.27,713.27 L733.7,714.2 L733.7,728.41 L731.27,727.21 L728.84,726.02 L726.41,724.83 L723.98,723.64 L721.55,722.45 L719.12,721.26 L716.68,720.08 L714.25,718.89 L711.82,717.71 L709.39,716.53 L706.96,715.35 L704.53,714.17 L702.1,712.99 L699.67,711.82 L697.24,710.64 L694.81,709.47 L692.38,708.3 L689.95,707.13 L687.51,705.96 L685.08,704.79 L682.65,703.62 L680.22,702.46 L677.79,701.3 L675.36,700.14 L672.93,698.98 L670.5,697.82 L668.07,696.66 L665.64,695.51 L663.21,694.35 L660.78,693.2 L658.34,692.05 L655.91,690.9 L653.48,689.75 L651.05,688.61 L648.62,687.46 L646.19,686.32 L643.76,685.18 L641.33,684.04 L638.9,682.9 L636.47,681.77 L634.04,680.63 L631.61,679.5 L629.17,678.37 L626.74,677.24 L624.31,676.12 L621.88,674.99 L619.45,673.87 L617.02,672.75 L614.59,671.63 L612.16,670.52 L609.73,669.41 L607.3,668.3 L604.87,667.19 L602.44,666.09 L600,664.99 L597.57,663.91 L596.36,663.41Z" fill="#0642ac"/>
<polyline points="592.71,663 597.57,663.45 602.44,665.45 607.3,667.45 612.16,669.46 617.02,671.47 621.88,673.49 626.74,675.51 631.61,677.54 636.47,679.57 641.33,681.61 646.19,683.65 651.05,685.7 655.91,687.75 660.78,689.81 665.64,691.87 670.5,693.93 675.36,696 680.22,698.08 685.08,700.16 689.95,702.24 694.81,704.33 699.67,706.43 704.53,708.53 709.39,710.63 714.25,712.74 719.12,714.85 723.98,716.97 728.84,719.09 733.7,721.22" fill="none" stroke="#000" stroke-width="2" stroke-linejoin="round"/>
<line x1="595.14" y1="573.3" x2="595.14" y2="816" stroke="#858585" stroke-width="1.7" stroke-dasharray="6.4 5.6" stroke-dashoffset="2.7"/>
<polyline points="442,582.5 446.86,585.3 451.72,587.5 456.58,591.3 461.45,594.1 466.31,596.7 471.17,600.6 476.03,604.2 480.89,606.4 485.75,607.7 490.62,609.3 495.48,611.3 500.34,612.3 505.2,613.1 510.06,614.3 514.92,616.6 519.79,619.9 524.65,623.3 529.51,626 534.37,628.4 539.23,631.5 544.1,634.7 548.96,638.1 553.82,641.3 558.68,644.9 563.54,647.8 568.4,649.9 573.26,652.8 578.13,656.4 582.99,659 587.85,660.2 592.71,663" fill="none" stroke="#000" stroke-width="1.4" stroke-linejoin="round"/>
<circle cx="442" cy="582.5" r="2"/>
<circle cx="446.86" cy="585.3" r="2"/>
<circle cx="451.72" cy="587.5" r="2"/>
<circle cx="456.58" cy="591.3" r="2"/>
<circle cx="461.45" cy="594.1" r="2"/>
<circle cx="466.31" cy="596.7" r="2"/>
<circle cx="471.17" cy="600.6" r="2"/>
<circle cx="476.03" cy="604.2" r="2"/>
<circle cx="480.89" cy="606.4" r="2"/>
<circle cx="485.75" cy="607.7" r="2"/>
<circle cx="490.62" cy="609.3" r="2"/>
<circle cx="495.48" cy="611.3" r="2"/>
<circle cx="500.34" cy="612.3" r="2"/>
<circle cx="505.2" cy="613.1" r="2"/>
<circle cx="510.06" cy="614.3" r="2"/>
<circle cx="514.92" cy="616.6" r="2"/>
<circle cx="519.79" cy="619.9" r="2"/>
<circle cx="524.65" cy="623.3" r="2"/>
<circle cx="529.51" cy="626" r="2"/>
<circle cx="534.37" cy="628.4" r="2"/>
<circle cx="539.23" cy="631.5" r="2"/>
<circle cx="544.1" cy="634.7" r="2"/>
<circle cx="548.96" cy="638.1" r="2"/>
<circle cx="553.82" cy="641.3" r="2"/>
<circle cx="558.68" cy="644.9" r="2"/>
<circle cx="563.54" cy="647.8" r="2"/>
<circle cx="568.4" cy="649.9" r="2"/>
<circle cx="573.26" cy="652.8" r="2"/>
<circle cx="578.13" cy="656.4" r="2"/>
<circle cx="582.99" cy="659" r="2"/>
<circle cx="587.85" cy="660.2" r="2"/>
<circle cx="592.71" cy="663" r="2"/>
</g>
<rect x="430.4" y="573.3" width="314.9" height="242.7" fill="none" stroke="#000" stroke-width="1.85"/>
<line x1="442" y1="816" x2="442" y2="823" stroke="#000" stroke-width="1.5"/>
<text x="442" y="840.1" text-anchor="middle" font-size="10.8">1990</text>
<line x1="490.62" y1="816" x2="490.62" y2="823" stroke="#000" stroke-width="1.5"/>
<text x="490.62" y="840.1" text-anchor="middle" font-size="10.8">2000</text>
<line x1="539.23" y1="816" x2="539.23" y2="823" stroke="#000" stroke-width="1.5"/>
<text x="539.23" y="840.1" text-anchor="middle" font-size="10.8">2010</text>
<line x1="587.85" y1="816" x2="587.85" y2="823" stroke="#000" stroke-width="1.5"/>
<text x="587.85" y="840.1" text-anchor="middle" font-size="10.8">2020</text>
<line x1="636.47" y1="816" x2="636.47" y2="823" stroke="#000" stroke-width="1.5"/>
<text x="636.47" y="840.1" text-anchor="middle" font-size="10.8">2030</text>
<line x1="685.08" y1="816" x2="685.08" y2="823" stroke="#000" stroke-width="1.5"/>
<text x="685.08" y="840.1" text-anchor="middle" font-size="10.8">2040</text>
<line x1="733.7" y1="816" x2="733.7" y2="823" stroke="#000" stroke-width="1.5"/>
<text x="733.7" y="840.1" text-anchor="middle" font-size="10.8">2050</text>
<line x1="423.2" y1="799.31" x2="430.4" y2="799.31" stroke="#000" stroke-width="1.5"/>
<text transform="translate(415.2,799.31) rotate(-90)" text-anchor="middle" font-size="10.8">10</text>
<line x1="423.2" y1="743.02" x2="430.4" y2="743.02" stroke="#000" stroke-width="1.5"/>
<text transform="translate(415.2,743.02) rotate(-90)" text-anchor="middle" font-size="10.8">20</text>
<line x1="423.2" y1="686.73" x2="430.4" y2="686.73" stroke="#000" stroke-width="1.5"/>
<text transform="translate(415.2,686.73) rotate(-90)" text-anchor="middle" font-size="10.8">30</text>
<line x1="423.2" y1="630.44" x2="430.4" y2="630.44" stroke="#000" stroke-width="1.5"/>
<text transform="translate(415.2,630.44) rotate(-90)" text-anchor="middle" font-size="10.8">40</text>
<line x1="423.2" y1="574.15" x2="430.4" y2="574.15" stroke="#000" stroke-width="1.5"/>
<text transform="translate(415.2,574.15) rotate(-90)" text-anchor="middle" font-size="10.8">50</text>
<text transform="translate(395.2,697.85) rotate(-90)" text-anchor="middle" font-size="10.95">ASDR per 100000 for female</text>
</svg>
</body></html>
